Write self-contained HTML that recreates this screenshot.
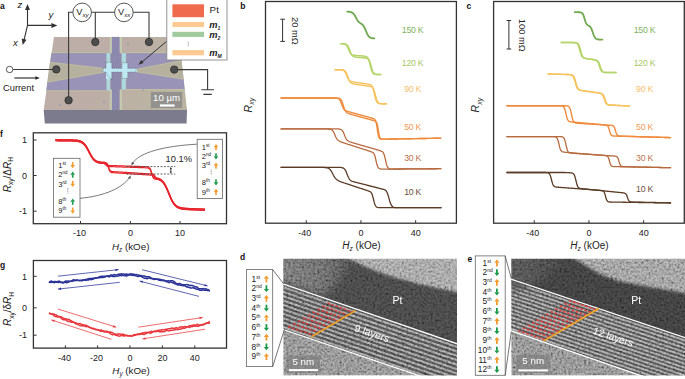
<!DOCTYPE html>
<html><head><meta charset="utf-8"><style>
html,body{margin:0;padding:0;background:#fff;width:685px;height:379px;overflow:hidden}
svg{display:block;font-family:"Liberation Sans", sans-serif}
</style></head><body>
<svg width="685" height="379" viewBox="0 0 685 379">
<defs>
<filter id="nz" x="0" y="0" width="100%" height="100%" filterUnits="objectBoundingBox">
<feTurbulence type="fractalNoise" baseFrequency="0.45" numOctaves="2" seed="5" result="t"/>
<feColorMatrix type="matrix" values="1.5 0 0 0 -0.25  1.5 0 0 0 -0.25  1.5 0 0 0 -0.25  0 0 0 0 1"/>
<feGaussianBlur stdDeviation="0.6"/>
</filter>
<linearGradient id="cdtl" x1="0" y1="0" x2="1" y2="0"><stop offset="0" stop-color="#6a6a6a"/><stop offset="0.6" stop-color="#606060"/><stop offset="1" stop-color="#4c4c4c"/></linearGradient>
<linearGradient id="facegr" x1="0" y1="0" x2="1" y2="0.3"><stop offset="0" stop-color="#bdada8"/><stop offset="0.55" stop-color="#bcaea6"/><stop offset="1" stop-color="#bbb4a2"/></linearGradient>
<filter id="bl1" x="-10%" y="-10%" width="120%" height="120%"><feGaussianBlur stdDeviation="1.6"/></filter>
<filter id="bl2" x="-10%" y="-10%" width="120%" height="120%"><feGaussianBlur stdDeviation="4"/></filter>
<linearGradient id="cetl" x1="0" y1="0" x2="1" y2="0"><stop offset="0" stop-color="#4e4e4e"/><stop offset="1" stop-color="#3e3e3e"/></linearGradient>
</defs>
<text x="0" y="9" font-size="8.5" text-anchor="start" fill="#111" font-weight="bold" font-style="normal" >a</text>
<path d="M27.5 25.4 V8.5 M27.5 25.4 H52.5 M27.5 25.4 L23.9 40.6" stroke="#333" stroke-width="1.1" fill="none"/>
<polygon points="27.5,4 30,10 25,10" fill="#333"/>
<polygon points="57.4,25.4 51.4,27.9 51.4,22.9" fill="#333"/>
<polygon points="22.7,45 21.68,38.58 26.54,39.76" fill="#333"/>
<text x="17.4" y="8" font-size="9.5" text-anchor="start" fill="#222" font-weight="normal" font-style="italic" >z</text>
<text x="48.5" y="18.2" font-size="9.5" text-anchor="start" fill="#222" font-weight="normal" font-style="italic" >y</text>
<text x="13" y="46.4" font-size="9.5" text-anchor="start" fill="#222" font-weight="normal" font-style="italic" >x</text>
<polygon points="43.7,110 187,110 186.6,123.6 44.8,123.6" fill="#7c7b8d"/>
<polygon points="53.9,36.9 179,36.9 187,110 43.7,110" fill="url(#facegr)"/>
<polygon points="51.4,52.8 106.5,52.8 106.5,68.8 50,62.4" fill="#9893b7"/>
<polygon points="47.3,82 106.5,71.6 106.8,90.6 46.3,90.6" fill="#9893b7"/>
<polygon points="126.2,52.9 180.6,52.9 181.5,60.8 137,69.4 126.2,69.4" fill="#9893b7"/>
<polygon points="126.2,71.6 137,71.6 183.6,79 184.6,89.2 126.2,89.2" fill="#9893b7"/>
<polygon points="49.8,62.3 104.5,69.2 104.5,71.8 47.3,82.1" fill="#b6b09f"/>
<polygon points="181.5,60.7 136.5,69.3 136.5,71.7 183.6,79.1" fill="#b6b09f"/>
<path d="M51.4 52.6 H106.5 M126.2 52.7 H180.6 M46.3 90.9 H106.8 M126.2 89.5 H184.6 M50 62.2 L106 68.6 M47.3 82.2 L106 71.8 M181.5 60.6 L137 69.2 M183.6 79.2 L137 71.8" stroke="#c9c79a" stroke-width="0.9" fill="none" opacity="0.8"/>
<rect x="106.6" y="53" width="4.2" height="37.5" fill="#acd9df"/>
<rect x="121.3" y="53" width="4.5" height="36.5" fill="#acd9df"/>
<rect x="109.8" y="36.9" width="2.4" height="73.1" fill="#c3cdb0" opacity="0.9"/>
<rect x="119.6" y="36.9" width="2.4" height="73.1" fill="#c3cdb0" opacity="0.9"/>
<rect x="111.9" y="36.9" width="7.6" height="73.1" fill="#8c88ae"/>
<rect x="110.4" y="53.3" width="11.1" height="36.2" fill="#8c88ae"/>
<rect x="103" y="68.3" width="34" height="3.8" fill="#bfe8f5"/>
<rect x="106" y="62.3" width="5.8" height="17" rx="1" fill="#bfe8f5"/>
<rect x="122" y="62.8" width="5.8" height="15.6" rx="1" fill="#bfe8f5"/>
<path d="M103 68.3 H106 V62.3 H111.8 V68.3 H122 V62.8 H127.8 V68.3 H137 L135 72.1 H127.8 V78.4 H122 V72.1 H111.8 V80 L108 76 L106 72.1 H103 Z" fill="none" stroke="#333" stroke-width="0.45" stroke-dasharray="1 0.9"/>
<circle cx="104" cy="102" r="0.7" fill="#5b7fc0" opacity="0.7"/>
<circle cx="143" cy="90" r="0.7" fill="#5b7fc0" opacity="0.7"/>
<circle cx="128" cy="44" r="0.7" fill="#5b7fc0" opacity="0.7"/>
<circle cx="60" cy="105" r="0.7" fill="#5b7fc0" opacity="0.7"/>
<path d="M68.6 100.3 V12.3 H149 V42 M95.3 12.3 V42" stroke="#3a3a3a" stroke-width="1.1" fill="none"/>
<path d="M12.9 69.5 H56.3 M174.2 69.6 H207.6 V89.7 M201.3 89.7 H214 M203.4 94.4 H211.8" stroke="#3a3a3a" stroke-width="1.1" fill="none"/>
<circle cx="82.15" cy="12.4" r="9.3" fill="#fff" stroke="#444" stroke-width="0.9"/>
<text x="76.25" y="14.6" font-size="9.3" fill="#222">V<tspan font-size="6.2" font-style="italic" dy="2.4">xy</tspan></text>
<circle cx="123.9" cy="12.4" r="9.3" fill="#fff" stroke="#444" stroke-width="0.9"/>
<text x="118" y="14.6" font-size="9.3" fill="#222">V<tspan font-size="6.2" font-style="italic" dy="2.4">xx</tspan></text>
<circle cx="95.3" cy="42" r="3.7" fill="#4d4d4d" stroke="#2e2e2e" stroke-width="0.8"/>
<circle cx="149" cy="42" r="3.7" fill="#4d4d4d" stroke="#2e2e2e" stroke-width="0.8"/>
<circle cx="56.3" cy="69.4" r="3.7" fill="#4d4d4d" stroke="#2e2e2e" stroke-width="0.8"/>
<circle cx="174.2" cy="69.6" r="3.7" fill="#4d4d4d" stroke="#2e2e2e" stroke-width="0.8"/>
<circle cx="68.6" cy="100.3" r="3.7" fill="#4d4d4d" stroke="#2e2e2e" stroke-width="0.8"/>
<circle cx="9.6" cy="69.5" r="3.2" fill="#fff" stroke="#444" stroke-width="0.9"/>
<path d="M14.4 78 H35.5" stroke="#222" stroke-width="1.1"/>
<polygon points="39.8,78 35.3,79.8 35.3,76.2" fill="#222"/>
<text x="3" y="90.9" font-size="9.3" text-anchor="start" fill="#222" font-weight="normal" font-style="normal" >Current</text>
<rect x="150.8" y="92" width="31.4" height="16.1" fill="#8c8c8c" opacity="0.85"/>
<text x="166.5" y="100.9" font-size="9.6" text-anchor="middle" fill="#fff" font-weight="normal" font-style="normal" >10 &#181;m</text>
<rect x="159.9" y="104.4" width="14.7" height="2.2" fill="#fff"/>
<rect x="166.8" y="-1" width="60.2" height="61" fill="#fff" stroke="#888" stroke-width="0.9"/>
<rect x="172.4" y="4.3" width="31.6" height="12.9" fill="#f06a4e"/>
<rect x="172.4" y="22" width="31.6" height="5.1" fill="#fdca93"/>
<rect x="172.4" y="31.8" width="31.6" height="5.1" fill="#9fcb9e"/>
<rect x="172.4" y="50.1" width="31.6" height="5.2" fill="#fdca93"/>
<path d="M188.3 41.6 V47" stroke="#777" stroke-width="0.9" stroke-dasharray="0.9 0.9"/>
<text x="209.6" y="13.1" font-size="9.8" text-anchor="start" fill="#222" font-weight="normal" font-style="normal" >Pt</text>
<text x="209.2" y="28.0" font-size="9.3" font-weight="bold" font-style="italic" fill="#222">m<tspan font-size="5" dy="1.8">1</tspan></text>
<text x="209.2" y="37.8" font-size="9.3" font-weight="bold" font-style="italic" fill="#222">m<tspan font-size="5" dy="1.8">2</tspan></text>
<text x="209.2" y="56.2" font-size="9.3" font-weight="bold" font-style="italic" fill="#222">m<tspan font-size="5" dy="1.8">M</tspan></text>
<path d="M166.3 41.6 L141.5 62.4" stroke="#333" stroke-width="1"/>
<polygon points="138.5,64.7 141.13,60.04 143.56,62.97" fill="#333"/>
<text x="240.2" y="8.9" font-size="8.5" text-anchor="start" fill="#111" font-weight="bold" font-style="normal" >b</text>
<rect x="265.5" y="1.5" width="190.9" height="221.7" fill="none" stroke="#333" stroke-width="1.3"/>
<line x1="306.25" y1="223.2" x2="306.25" y2="220.2" stroke="#333" stroke-width="1"/>
<text x="304.75" y="235.8" font-size="9" text-anchor="middle" fill="#222" font-weight="normal" font-style="normal" >-40</text>
<line x1="360.95" y1="223.2" x2="360.95" y2="220.2" stroke="#333" stroke-width="1"/>
<text x="360.95" y="235.8" font-size="9" text-anchor="middle" fill="#222" font-weight="normal" font-style="normal" >0</text>
<line x1="415.65" y1="223.2" x2="415.65" y2="220.2" stroke="#333" stroke-width="1"/>
<text x="415.65" y="235.8" font-size="9" text-anchor="middle" fill="#222" font-weight="normal" font-style="normal" >40</text>
<text x="361.45" y="249.4" font-size="10" text-anchor="middle" fill="#222"><tspan font-style="italic">H</tspan><tspan font-size="6.5" font-style="italic" dy="2">z</tspan><tspan dy="-2"> (kOe)</tspan></text>
<text transform="translate(251.8,112.4) rotate(-90)" font-size="10.5" fill="#222"><tspan font-style="italic">R</tspan><tspan font-size="7" font-style="italic" dy="2.5">xy</tspan></text>
<path d="M282.6 19.2 V41.4 M280.3 19.2 H284.9 M280.3 41.4 H284.9" stroke="#333" stroke-width="1" fill="none"/>
<text transform="translate(292.2,30.8) rotate(90)" font-size="9.3" text-anchor="middle" fill="#222">20 m&#937;</text>
<path d="M347.3 11.65 L347.78 11.67 L348.26 11.69 L348.75 11.73 L349.23 11.77 L349.71 11.83 L350.19 11.91 L350.68 12.02 L351.16 12.16 L351.64 12.34 L352.12 12.58 L352.6 12.88 L353.09 13.27 L353.57 13.76 L354.05 14.34 L354.53 15.03 L355.01 15.82 L355.5 16.68 L355.98 17.58 L356.46 18.48 L356.94 19.35 L357.43 20.16 L357.91 20.87 L358.39 21.49 L358.87 22.02 L359.35 22.46 L359.84 22.84 L360.32 23.17 L360.8 23.48 L361.28 23.78 L361.76 24.11 L362.25 24.48 L362.73 24.93 L363.21 25.46 L363.69 26.12 L364.18 26.91 L364.66 27.84 L365.14 28.89 L365.62 30.04 L366.1 31.23 L366.59 32.41 L367.07 33.52 L367.55 34.51 L368.03 35.36 L368.51 36.06 L369 36.63 L369.48 37.07 L369.96 37.41 L370.44 37.67 L370.93 37.86 L371.41 38.01 L371.89 38.11 L372.37 38.19 L372.85 38.25 L373.34 38.29 L373.82 38.32 L374.3 38.34" fill="none" stroke="#6fa84f" stroke-width="1.8" stroke-linejoin="round" stroke-linecap="round"/>
<text x="412.6" y="33.15" font-size="8.8" text-anchor="middle" fill="#7fb25f" font-weight="normal" font-style="normal" letter-spacing="-0.3">150 K</text>
<path d="M341 43.72 L341.49 43.73 L341.98 43.75 L342.47 43.77 L342.96 43.8 L343.45 43.86 L343.94 43.93 L344.43 44.05 L344.92 44.21 L345.41 44.45 L345.9 44.8 L346.39 45.28 L346.88 45.92 L347.37 46.74 L347.86 47.73 L348.35 48.86 L348.84 50.03 L349.33 51.15 L349.82 52.15 L350.31 52.97 L350.8 53.62 L351.29 54.1 L351.78 54.44 L352.27 54.7 L352.76 54.91 L353.25 55.06 L353.74 55.17 L354.23 55.26 L354.72 55.33 L355.21 55.38 L355.7 55.43 L356.19 55.48 L356.68 55.52 L357.17 55.56 L357.66 55.6 L358.15 55.64 L358.64 55.67 L359.13 55.71 L359.62 55.74 L360.11 55.78 L360.6 55.82 L361.1 55.85 L361.59 55.89 L362.08 55.93 L362.57 55.97 L363.06 56.02 L363.55 56.07 L364.04 56.13 L364.53 56.2 L365.02 56.29 L365.51 56.42 L366 56.59 L366.49 56.8 L366.98 57.13 L367.47 57.61 L367.96 58.31 L368.45 59.29 L368.94 60.61 L369.43 62.26 L369.92 64.18 L370.41 66.21 L370.9 68.16 L371.39 69.86 L371.88 71.23 L372.37 72.26 L372.86 73 L373.35 73.51 L373.84 73.85 L374.33 74.08 L374.82 74.23 L375.31 74.33 L375.8 74.39 L376.29 74.43 L376.78 74.45 L377.27 74.47 L377.76 74.48 L378.25 74.49 L378.74 74.49 L379.23 74.5 L379.72 74.5 L380.21 74.5 L380.7 74.5" fill="none" stroke="#b5d56b" stroke-width="1.5" stroke-linejoin="round" stroke-linecap="round"/>
<path d="M341 43.71 L341.49 43.71 L341.98 43.72 L342.47 43.73 L342.96 43.74 L343.45 43.77 L343.94 43.8 L344.43 43.85 L344.92 43.92 L345.41 44.03 L345.9 44.2 L346.39 44.43 L346.88 44.77 L347.37 45.25 L347.86 45.91 L348.35 46.76 L348.84 47.83 L349.33 49.07 L349.82 50.41 L350.31 51.75 L350.8 52.98 L351.29 54.02 L351.78 54.86 L352.27 55.52 L352.76 56.02 L353.25 56.38 L353.74 56.64 L354.23 56.84 L354.72 56.98 L355.21 57.09 L355.7 57.17 L356.19 57.24 L356.68 57.29 L357.17 57.34 L357.66 57.39 L358.15 57.43 L358.64 57.47 L359.13 57.5 L359.62 57.54 L360.11 57.58 L360.6 57.61 L361.1 57.65 L361.59 57.69 L362.08 57.72 L362.57 57.76 L363.06 57.8 L363.55 57.84 L364.04 57.88 L364.53 57.93 L365.02 57.99 L365.51 58.06 L366 58.14 L366.49 58.22 L366.98 58.35 L367.47 58.54 L367.96 58.82 L368.45 59.25 L368.94 59.87 L369.43 60.74 L369.92 61.92 L370.41 63.4 L370.9 65.12 L371.39 66.95 L371.88 68.71 L372.37 70.26 L372.86 71.51 L373.35 72.45 L373.84 73.13 L374.33 73.59 L374.82 73.91 L375.31 74.12 L375.8 74.25 L376.29 74.34 L376.78 74.4 L377.27 74.43 L377.76 74.46 L378.25 74.47 L378.74 74.48 L379.23 74.49 L379.72 74.49 L380.21 74.5 L380.7 74.5" fill="none" stroke="#b5d56b" stroke-width="1.5" stroke-linejoin="round" stroke-linecap="round"/>
<text x="412.6" y="66.05" font-size="8.8" text-anchor="middle" fill="#a8c862" font-weight="normal" font-style="normal" letter-spacing="-0.3">120 K</text>
<path d="M335.2 69.7 L335.69 69.7 L336.19 69.7 L336.68 69.7 L337.17 69.7 L337.67 69.71 L338.16 69.71 L338.65 69.71 L339.15 69.72 L339.64 69.73 L340.13 69.75 L340.63 69.77 L341.12 69.8 L341.61 69.86 L342.11 69.94 L342.6 70.05 L343.09 70.22 L343.59 70.47 L344.08 70.83 L344.57 71.32 L345.07 71.99 L345.56 72.85 L346.05 73.89 L346.55 75.07 L347.04 76.29 L347.53 77.47 L348.02 78.52 L348.52 79.39 L349.01 80.06 L349.5 80.56 L350 80.92 L350.49 81.17 L350.98 81.34 L351.48 81.53 L351.97 81.68 L352.46 81.8 L352.96 81.9 L353.45 81.99 L353.94 82.08 L354.44 82.16 L354.93 82.23 L355.42 82.31 L355.92 82.38 L356.41 82.45 L356.9 82.52 L357.4 82.59 L357.89 82.66 L358.38 82.72 L358.88 82.79 L359.37 82.86 L359.86 82.93 L360.36 83 L360.85 83.07 L361.34 83.14 L361.84 83.21 L362.33 83.27 L362.82 83.34 L363.32 83.41 L363.81 83.48 L364.3 83.55 L364.8 83.62 L365.29 83.69 L365.78 83.76 L366.28 83.83 L366.77 83.91 L367.26 83.99 L367.76 84.07 L368.25 84.17 L368.74 84.28 L369.24 84.38 L369.73 84.48 L370.22 84.63 L370.72 84.86 L371.21 85.22 L371.7 85.75 L372.2 86.53 L372.69 87.61 L373.18 89.07 L373.68 90.88 L374.17 92.97 L374.66 95.16 L375.15 97.24 L375.65 99.03 L376.14 100.46 L376.63 101.53 L377.13 102.29 L377.62 102.8 L378.11 103.15 L378.61 103.38 L379.1 103.53 L379.59 103.63 L380.09 103.69 L380.58 103.73 L381.07 103.75 L381.57 103.77 L382.06 103.78 L382.55 103.79 L383.05 103.79 L383.54 103.8 L384.03 103.8 L384.53 103.8 L385.02 103.8 L385.51 103.8 L386.01 103.8 L386.5 103.8" fill="none" stroke="#f6c25c" stroke-width="1.4" stroke-linejoin="round" stroke-linecap="round"/>
<path d="M335.2 69.7 L335.69 69.7 L336.19 69.7 L336.68 69.7 L337.17 69.7 L337.67 69.7 L338.16 69.7 L338.65 69.71 L339.15 69.71 L339.64 69.72 L340.13 69.72 L340.63 69.74 L341.12 69.75 L341.61 69.78 L342.11 69.82 L342.6 69.88 L343.09 69.97 L343.59 70.11 L344.08 70.3 L344.57 70.59 L345.07 71 L345.56 71.57 L346.05 72.35 L346.55 73.34 L347.04 74.55 L347.53 75.92 L348.02 77.35 L348.52 78.73 L349.01 79.96 L349.5 80.98 L350 81.77 L350.49 82.36 L350.98 82.78 L351.48 83.14 L351.97 83.41 L352.46 83.62 L352.96 83.78 L353.45 83.92 L353.94 84.03 L354.44 84.12 L354.93 84.21 L355.42 84.29 L355.92 84.37 L356.41 84.44 L356.9 84.51 L357.4 84.58 L357.89 84.65 L358.38 84.72 L358.88 84.79 L359.37 84.86 L359.86 84.93 L360.36 85 L360.85 85.07 L361.34 85.14 L361.84 85.21 L362.33 85.27 L362.82 85.34 L363.32 85.41 L363.81 85.48 L364.3 85.55 L364.8 85.62 L365.29 85.69 L365.78 85.76 L366.28 85.83 L366.77 85.9 L367.26 85.97 L367.76 86.04 L368.25 86.12 L368.74 86.21 L369.24 86.26 L369.73 86.3 L370.22 86.36 L370.72 86.45 L371.21 86.58 L371.7 86.79 L372.2 87.11 L372.69 87.58 L373.18 88.27 L373.68 89.24 L374.17 90.53 L374.66 92.15 L375.15 94.02 L375.65 95.99 L376.14 97.86 L376.63 99.48 L377.13 100.77 L377.62 101.74 L378.11 102.42 L378.61 102.9 L379.1 103.21 L379.59 103.42 L380.09 103.56 L380.58 103.64 L381.07 103.7 L381.57 103.74 L382.06 103.76 L382.55 103.77 L383.05 103.78 L383.54 103.79 L384.03 103.79 L384.53 103.8 L385.02 103.8 L385.51 103.8 L386.01 103.8 L386.5 103.8" fill="none" stroke="#f6c25c" stroke-width="1.4" stroke-linejoin="round" stroke-linecap="round"/>
<text x="412.6" y="92.25" font-size="8.8" text-anchor="middle" fill="#f3c06c" font-weight="normal" font-style="normal" letter-spacing="-0.3">90 K</text>
<path d="M281.1 98 L281.6 98 L282.09 98 L282.59 98 L283.09 98 L283.58 98 L284.08 98 L284.58 98 L285.08 98 L285.57 98 L286.07 98 L286.57 98 L287.06 98 L287.56 98 L288.06 98 L288.55 98 L289.05 98 L289.55 98 L290.04 98 L290.54 98 L291.04 98 L291.53 98 L292.03 98 L292.53 98 L293.03 98 L293.52 98 L294.02 98 L294.52 98 L295.01 98 L295.51 98 L296.01 98 L296.5 98 L297 98 L297.5 98 L297.99 98 L298.49 98 L298.99 98 L299.48 98 L299.98 98 L300.48 98 L300.98 98 L301.47 98 L301.97 98 L302.47 98 L302.96 98 L303.46 98 L303.96 98 L304.45 98 L304.95 98 L305.45 98 L305.94 98 L306.44 98 L306.94 98 L307.43 98 L307.93 98 L308.43 98 L308.93 98 L309.42 98 L309.92 98 L310.42 98 L310.91 98 L311.41 98 L311.91 98 L312.4 98 L312.9 98 L313.4 98 L313.89 98 L314.39 98 L314.89 98 L315.39 98 L315.88 98 L316.38 98 L316.88 98 L317.37 98 L317.87 98 L318.37 98 L318.86 98 L319.36 98 L319.86 98 L320.35 98 L320.85 98 L321.35 98 L321.84 98 L322.34 98 L322.84 98 L323.34 98 L323.83 98 L324.33 98 L324.83 98 L325.32 98 L325.82 98 L326.32 98 L326.81 98 L327.31 98 L327.81 98 L328.3 98 L328.8 98 L329.3 98 L329.79 98 L330.29 98 L330.79 98 L331.29 98 L331.78 98 L332.28 98 L332.78 98.01 L333.27 98.01 L333.77 98.01 L334.27 98.02 L334.76 98.03 L335.26 98.04 L335.76 98.07 L336.25 98.1 L336.75 98.16 L337.25 98.24 L337.74 98.37 L338.24 98.56 L338.74 98.85 L339.24 99.26 L339.73 99.85 L340.23 100.64 L340.73 101.67 L341.22 102.9 L341.72 104.27 L342.22 105.67 L342.71 106.95 L343.21 108.05 L343.71 108.92 L344.2 109.57 L344.7 110.03 L345.2 110.36 L345.7 110.57 L346.19 110.77 L346.69 111.01 L347.19 111.2 L347.68 111.38 L348.18 111.55 L348.68 111.7 L349.17 111.85 L349.67 111.99 L350.17 112.13 L350.66 112.27 L351.16 112.41 L351.66 112.54 L352.15 112.68 L352.65 112.82 L353.15 112.95 L353.65 113.09 L354.14 113.23 L354.64 113.36 L355.14 113.5 L355.63 113.63 L356.13 113.77 L356.63 113.9 L357.12 114.04 L357.62 114.18 L358.12 114.31 L358.61 114.45 L359.11 114.58 L359.61 114.72 L360.1 114.86 L360.6 114.99 L361.1 115.13 L361.6 115.26 L362.09 115.4 L362.59 115.53 L363.09 115.67 L363.58 115.81 L364.08 115.94 L364.58 116.08 L365.07 116.21 L365.57 116.35 L366.07 116.49 L366.56 116.62 L367.06 116.76 L367.56 116.89 L368.05 117.03 L368.55 117.16 L369.05 117.3 L369.55 117.44 L370.04 117.57 L370.54 117.71 L371.04 117.85 L371.53 117.98 L372.03 118.13 L372.53 118.27 L373.02 118.43 L373.52 118.61 L374.02 118.84 L374.51 119.16 L375.01 119.66 L375.51 120.5 L376 121.92 L376.5 124.05 L377 127.08 L377.5 130.59 L377.99 133.78 L378.49 136.11 L378.99 137.55 L379.48 138.35 L379.98 138.77 L380.48 138.99 L380.97 139.1 L381.47 139.15 L381.97 139.17 L382.46 139.18 L382.96 139.18 L383.46 139.17 L383.96 139.16 L384.45 139.16 L384.95 139.15 L385.45 139.14 L385.94 139.13 L386.44 139.12 L386.94 139.11 L387.43 139.11 L387.93 139.1 L388.43 139.09 L388.92 139.08 L389.42 139.07 L389.92 139.06 L390.41 139.05 L390.91 139.05 L391.41 139.04 L391.91 139.03 L392.4 139.02 L392.9 139.01 L393.4 139 L393.89 138.99 L394.39 138.99 L394.89 138.98 L395.38 138.97 L395.88 138.96 L396.38 138.95 L396.87 138.94 L397.37 138.93 L397.87 138.93 L398.36 138.92 L398.86 138.91 L399.36 138.9 L399.86 138.89 L400.35 138.88 L400.85 138.88 L401.35 138.87 L401.84 138.86 L402.34 138.85 L402.84 138.84 L403.33 138.83 L403.83 138.82 L404.33 138.82 L404.82 138.81 L405.32 138.8 L405.82 138.79 L406.31 138.78 L406.81 138.77 L407.31 138.76 L407.81 138.76 L408.3 138.75 L408.8 138.74 L409.3 138.73 L409.79 138.72 L410.29 138.71 L410.79 138.7 L411.28 138.7 L411.78 138.69 L412.28 138.68 L412.77 138.67 L413.27 138.66 L413.77 138.65 L414.27 138.64 L414.76 138.64 L415.26 138.63 L415.76 138.62 L416.25 138.61 L416.75 138.6 L417.25 138.59 L417.74 138.58 L418.24 138.58 L418.74 138.57 L419.23 138.56 L419.73 138.55 L420.23 138.54 L420.72 138.53 L421.22 138.52 L421.72 138.52 L422.22 138.51 L422.71 138.5 L423.21 138.49 L423.71 138.48 L424.2 138.47 L424.7 138.46 L425.2 138.46 L425.69 138.45 L426.19 138.44 L426.69 138.43 L427.18 138.42 L427.68 138.41 L428.18 138.4 L428.67 138.4 L429.17 138.39 L429.67 138.38 L430.17 138.37 L430.66 138.36 L431.16 138.35 L431.66 138.34 L432.15 138.34 L432.65 138.33 L433.15 138.32 L433.64 138.31 L434.14 138.3 L434.64 138.29 L435.13 138.28 L435.63 138.28 L436.13 138.27 L436.62 138.26 L437.12 138.25 L437.62 138.24 L438.12 138.23 L438.61 138.22 L439.11 138.22 L439.61 138.21 L440.1 138.2 L440.6 138.2" fill="none" stroke="#f08a3c" stroke-width="1.4" stroke-linejoin="round" stroke-linecap="round"/>
<path d="M281.1 98 L281.6 98 L282.09 98 L282.59 98 L283.09 98 L283.58 98 L284.08 98 L284.58 98 L285.08 98 L285.57 98 L286.07 98 L286.57 98 L287.06 98 L287.56 98 L288.06 98 L288.55 98 L289.05 98 L289.55 98 L290.04 98 L290.54 98 L291.04 98 L291.53 98 L292.03 98 L292.53 98 L293.03 98 L293.52 98 L294.02 98 L294.52 98 L295.01 98 L295.51 98 L296.01 98 L296.5 98 L297 98 L297.5 98 L297.99 98 L298.49 98 L298.99 98 L299.48 98 L299.98 98 L300.48 98 L300.98 98 L301.47 98 L301.97 98 L302.47 98 L302.96 98 L303.46 98 L303.96 98 L304.45 98 L304.95 98 L305.45 98 L305.94 98 L306.44 98 L306.94 98 L307.43 98 L307.93 98 L308.43 98 L308.93 98 L309.42 98 L309.92 98 L310.42 98 L310.91 98 L311.41 98 L311.91 98 L312.4 98 L312.9 98 L313.4 98 L313.89 98 L314.39 98 L314.89 98 L315.39 98 L315.88 98 L316.38 98 L316.88 98 L317.37 98 L317.87 98 L318.37 98 L318.86 98 L319.36 98 L319.86 98 L320.35 98 L320.85 98 L321.35 98 L321.84 98 L322.34 98 L322.84 98 L323.34 98 L323.83 98 L324.33 98 L324.83 98 L325.32 98 L325.82 98 L326.32 98 L326.81 98 L327.31 98 L327.81 98 L328.3 98 L328.8 98 L329.3 98 L329.79 98 L330.29 98 L330.79 98 L331.29 98 L331.78 98 L332.28 98 L332.78 98 L333.27 98 L333.77 98 L334.27 98.01 L334.76 98.01 L335.26 98.01 L335.76 98.02 L336.25 98.03 L336.75 98.05 L337.25 98.08 L337.74 98.12 L338.24 98.18 L338.74 98.28 L339.24 98.43 L339.73 98.65 L340.23 98.97 L340.73 99.45 L341.22 100.12 L341.72 101.03 L342.22 102.21 L342.71 103.63 L343.21 105.21 L343.71 106.81 L344.2 108.31 L344.7 109.58 L345.2 110.58 L345.7 111.34 L346.19 111.93 L346.69 112.44 L347.19 112.83 L347.68 113.14 L348.18 113.38 L348.68 113.59 L349.17 113.78 L349.67 113.94 L350.17 114.1 L350.66 114.25 L351.16 114.39 L351.66 114.54 L352.15 114.68 L352.65 114.81 L353.15 114.95 L353.65 115.09 L354.14 115.22 L354.64 115.36 L355.14 115.5 L355.63 115.63 L356.13 115.77 L356.63 115.9 L357.12 116.04 L357.62 116.18 L358.12 116.31 L358.61 116.45 L359.11 116.58 L359.61 116.72 L360.1 116.86 L360.6 116.99 L361.1 117.13 L361.6 117.26 L362.09 117.4 L362.59 117.53 L363.09 117.67 L363.58 117.81 L364.08 117.94 L364.58 118.08 L365.07 118.21 L365.57 118.35 L366.07 118.49 L366.56 118.62 L367.06 118.76 L367.56 118.89 L368.05 119.03 L368.55 119.16 L369.05 119.3 L369.55 119.44 L370.04 119.57 L370.54 119.71 L371.04 119.84 L371.53 119.98 L372.03 120.12 L372.53 120.26 L373.02 120.4 L373.52 120.54 L374.02 120.7 L374.51 120.87 L375.01 121.09 L375.51 121.39 L376 121.85 L376.5 122.48 L377 123.63 L377.5 125.53 L377.99 128.25 L378.49 131.41 L378.99 134.29 L379.48 136.4 L379.98 137.7 L380.48 138.43 L380.97 138.81 L381.47 139.01 L381.97 139.11 L382.46 139.15 L382.96 139.16 L383.46 139.16 L383.96 139.16 L384.45 139.15 L384.95 139.15 L385.45 139.14 L385.94 139.13 L386.44 139.12 L386.94 139.11 L387.43 139.11 L387.93 139.1 L388.43 139.09 L388.92 139.08 L389.42 139.07 L389.92 139.06 L390.41 139.05 L390.91 139.05 L391.41 139.04 L391.91 139.03 L392.4 139.02 L392.9 139.01 L393.4 139 L393.89 138.99 L394.39 138.99 L394.89 138.98 L395.38 138.97 L395.88 138.96 L396.38 138.95 L396.87 138.94 L397.37 138.93 L397.87 138.93 L398.36 138.92 L398.86 138.91 L399.36 138.9 L399.86 138.89 L400.35 138.88 L400.85 138.88 L401.35 138.87 L401.84 138.86 L402.34 138.85 L402.84 138.84 L403.33 138.83 L403.83 138.82 L404.33 138.82 L404.82 138.81 L405.32 138.8 L405.82 138.79 L406.31 138.78 L406.81 138.77 L407.31 138.76 L407.81 138.76 L408.3 138.75 L408.8 138.74 L409.3 138.73 L409.79 138.72 L410.29 138.71 L410.79 138.7 L411.28 138.7 L411.78 138.69 L412.28 138.68 L412.77 138.67 L413.27 138.66 L413.77 138.65 L414.27 138.64 L414.76 138.64 L415.26 138.63 L415.76 138.62 L416.25 138.61 L416.75 138.6 L417.25 138.59 L417.74 138.58 L418.24 138.58 L418.74 138.57 L419.23 138.56 L419.73 138.55 L420.23 138.54 L420.72 138.53 L421.22 138.52 L421.72 138.52 L422.22 138.51 L422.71 138.5 L423.21 138.49 L423.71 138.48 L424.2 138.47 L424.7 138.46 L425.2 138.46 L425.69 138.45 L426.19 138.44 L426.69 138.43 L427.18 138.42 L427.68 138.41 L428.18 138.4 L428.67 138.4 L429.17 138.39 L429.67 138.38 L430.17 138.37 L430.66 138.36 L431.16 138.35 L431.66 138.34 L432.15 138.34 L432.65 138.33 L433.15 138.32 L433.64 138.31 L434.14 138.3 L434.64 138.29 L435.13 138.28 L435.63 138.28 L436.13 138.27 L436.62 138.26 L437.12 138.25 L437.62 138.24 L438.12 138.23 L438.61 138.22 L439.11 138.22 L439.61 138.21 L440.1 138.2 L440.6 138.2" fill="none" stroke="#f08a3c" stroke-width="1.4" stroke-linejoin="round" stroke-linecap="round"/>
<text x="412.6" y="129.75" font-size="8.8" text-anchor="middle" fill="#ef9a58" font-weight="normal" font-style="normal" letter-spacing="-0.3">50 K</text>
<path d="M281.1 128.9 L281.6 128.9 L282.1 128.9 L282.59 128.9 L283.09 128.9 L283.59 128.9 L284.09 128.9 L284.58 128.9 L285.08 128.9 L285.58 128.9 L286.08 128.9 L286.57 128.9 L287.07 128.9 L287.57 128.9 L288.07 128.9 L288.56 128.9 L289.06 128.9 L289.56 128.9 L290.06 128.9 L290.55 128.9 L291.05 128.9 L291.55 128.9 L292.05 128.9 L292.54 128.9 L293.04 128.9 L293.54 128.9 L294.04 128.9 L294.53 128.9 L295.03 128.9 L295.53 128.9 L296.03 128.9 L296.52 128.9 L297.02 128.9 L297.52 128.9 L298.02 128.9 L298.51 128.9 L299.01 128.9 L299.51 128.9 L300.01 128.9 L300.5 128.9 L301 128.9 L301.5 128.9 L302 128.9 L302.49 128.9 L302.99 128.9 L303.49 128.9 L303.99 128.9 L304.48 128.9 L304.98 128.9 L305.48 128.9 L305.98 128.9 L306.47 128.9 L306.97 128.9 L307.47 128.9 L307.97 128.9 L308.46 128.9 L308.96 128.9 L309.46 128.9 L309.96 128.9 L310.45 128.9 L310.95 128.9 L311.45 128.9 L311.95 128.9 L312.44 128.9 L312.94 128.9 L313.44 128.9 L313.94 128.9 L314.43 128.9 L314.93 128.9 L315.43 128.9 L315.93 128.9 L316.42 128.9 L316.92 128.9 L317.42 128.9 L317.92 128.9 L318.41 128.9 L318.91 128.9 L319.41 128.9 L319.91 128.9 L320.4 128.9 L320.9 128.9 L321.4 128.9 L321.9 128.9 L322.39 128.9 L322.89 128.9 L323.39 128.9 L323.89 128.9 L324.38 128.9 L324.88 128.91 L325.38 128.91 L325.88 128.91 L326.37 128.92 L326.87 128.92 L327.37 128.94 L327.87 128.95 L328.36 128.98 L328.86 129.01 L329.36 129.06 L329.86 129.13 L330.35 129.24 L330.85 129.39 L331.35 129.61 L331.85 129.91 L332.34 130.33 L332.84 130.9 L333.34 131.62 L333.84 132.52 L334.33 133.58 L334.83 134.74 L335.33 135.94 L335.83 137.07 L336.32 138.08 L336.82 138.93 L337.32 139.6 L337.82 140.11 L338.31 140.49 L338.81 140.77 L339.31 141.06 L339.81 141.35 L340.3 141.61 L340.8 141.83 L341.3 142.03 L341.8 142.22 L342.29 142.4 L342.79 142.58 L343.29 142.74 L343.79 142.91 L344.28 143.07 L344.78 143.23 L345.28 143.39 L345.78 143.55 L346.27 143.71 L346.77 143.87 L347.27 144.03 L347.77 144.19 L348.26 144.35 L348.76 144.51 L349.26 144.66 L349.76 144.82 L350.25 144.98 L350.75 145.14 L351.25 145.3 L351.75 145.46 L352.24 145.61 L352.74 145.77 L353.24 145.93 L353.74 146.09 L354.23 146.25 L354.73 146.41 L355.23 146.56 L355.73 146.72 L356.22 146.88 L356.72 147.04 L357.22 147.2 L357.72 147.36 L358.21 147.51 L358.71 147.67 L359.21 147.83 L359.71 147.99 L360.2 148.15 L360.7 148.3 L361.2 148.46 L361.7 148.62 L362.19 148.78 L362.69 148.94 L363.19 149.1 L363.69 149.25 L364.18 149.41 L364.68 149.57 L365.18 149.73 L365.68 149.89 L366.17 150.05 L366.67 150.21 L367.17 150.36 L367.67 150.52 L368.16 150.68 L368.66 150.85 L369.16 151.01 L369.66 151.18 L370.15 151.35 L370.65 151.53 L371.15 151.73 L371.65 151.96 L372.14 152.19 L372.64 152.39 L373.14 152.71 L373.64 153.22 L374.13 154.02 L374.63 155.19 L375.13 156.81 L375.63 158.83 L376.12 161.06 L376.62 163.22 L377.12 165.05 L377.62 166.45 L378.11 167.42 L378.61 168.07 L379.11 168.47 L379.61 168.72 L380.1 168.87 L380.6 168.97 L381.1 169.02 L381.6 169.05 L382.09 169.07 L382.59 169.08 L383.09 169.08 L383.59 169.08 L384.08 169.08 L384.58 169.08 L385.08 169.08 L385.58 169.07 L386.07 169.07 L386.57 169.07 L387.07 169.06 L387.57 169.06 L388.06 169.06 L388.56 169.05 L389.06 169.05 L389.56 169.05 L390.05 169.04 L390.55 169.04 L391.05 169.04 L391.55 169.03 L392.04 169.03 L392.54 169.03 L393.04 169.02 L393.54 169.02 L394.03 169.02 L394.53 169.01 L395.03 169.01 L395.53 169.01 L396.02 169 L396.52 169 L397.02 169 L397.52 168.99 L398.01 168.99 L398.51 168.99 L399.01 168.98 L399.51 168.98 L400 168.98 L400.5 168.97 L401 168.97 L401.5 168.97 L401.99 168.96 L402.49 168.96 L402.99 168.96 L403.49 168.95 L403.98 168.95 L404.48 168.94 L404.98 168.94 L405.48 168.94 L405.97 168.93 L406.47 168.93 L406.97 168.93 L407.47 168.92 L407.96 168.92 L408.46 168.92 L408.96 168.91 L409.46 168.91 L409.95 168.91 L410.45 168.9 L410.95 168.9 L411.45 168.9 L411.94 168.89 L412.44 168.89 L412.94 168.89 L413.44 168.88 L413.93 168.88 L414.43 168.88 L414.93 168.87 L415.43 168.87 L415.92 168.87 L416.42 168.86 L416.92 168.86 L417.42 168.86 L417.91 168.85 L418.41 168.85 L418.91 168.85 L419.41 168.84 L419.9 168.84 L420.4 168.84 L420.9 168.83 L421.4 168.83 L421.89 168.82 L422.39 168.82 L422.89 168.82 L423.39 168.81 L423.88 168.81 L424.38 168.81 L424.88 168.8 L425.38 168.8 L425.87 168.8 L426.37 168.79 L426.87 168.79 L427.37 168.79 L427.86 168.78 L428.36 168.78 L428.86 168.78 L429.36 168.77 L429.85 168.77 L430.35 168.77 L430.85 168.76 L431.35 168.76 L431.84 168.76 L432.34 168.75 L432.84 168.75 L433.34 168.75 L433.83 168.74 L434.33 168.74 L434.83 168.74 L435.33 168.73 L435.82 168.73 L436.32 168.73 L436.82 168.72 L437.32 168.72 L437.81 168.72 L438.31 168.71 L438.81 168.71 L439.31 168.7 L439.8 168.7 L440.3 168.7 L440.8 168.7" fill="none" stroke="#b86a3f" stroke-width="1.3" stroke-linejoin="round" stroke-linecap="round"/>
<path d="M281.1 128.9 L281.6 128.9 L282.1 128.9 L282.59 128.9 L283.09 128.9 L283.59 128.9 L284.09 128.9 L284.58 128.9 L285.08 128.9 L285.58 128.9 L286.08 128.9 L286.57 128.9 L287.07 128.9 L287.57 128.9 L288.07 128.9 L288.56 128.9 L289.06 128.9 L289.56 128.9 L290.06 128.9 L290.55 128.9 L291.05 128.9 L291.55 128.9 L292.05 128.9 L292.54 128.9 L293.04 128.9 L293.54 128.9 L294.04 128.9 L294.53 128.9 L295.03 128.9 L295.53 128.9 L296.03 128.9 L296.52 128.9 L297.02 128.9 L297.52 128.9 L298.02 128.9 L298.51 128.9 L299.01 128.9 L299.51 128.9 L300.01 128.9 L300.5 128.9 L301 128.9 L301.5 128.9 L302 128.9 L302.49 128.9 L302.99 128.9 L303.49 128.9 L303.99 128.9 L304.48 128.9 L304.98 128.9 L305.48 128.9 L305.98 128.9 L306.47 128.9 L306.97 128.9 L307.47 128.9 L307.97 128.9 L308.46 128.9 L308.96 128.9 L309.46 128.9 L309.96 128.9 L310.45 128.9 L310.95 128.9 L311.45 128.9 L311.95 128.9 L312.44 128.9 L312.94 128.9 L313.44 128.9 L313.94 128.9 L314.43 128.9 L314.93 128.9 L315.43 128.9 L315.93 128.9 L316.42 128.9 L316.92 128.9 L317.42 128.9 L317.92 128.9 L318.41 128.9 L318.91 128.9 L319.41 128.9 L319.91 128.9 L320.4 128.9 L320.9 128.9 L321.4 128.9 L321.9 128.9 L322.39 128.9 L322.89 128.9 L323.39 128.9 L323.89 128.9 L324.38 128.9 L324.88 128.9 L325.38 128.9 L325.88 128.9 L326.37 128.9 L326.87 128.9 L327.37 128.9 L327.87 128.9 L328.36 128.9 L328.86 128.9 L329.36 128.9 L329.86 128.9 L330.35 128.9 L330.85 128.9 L331.35 128.9 L331.85 128.9 L332.34 128.9 L332.84 128.9 L333.34 128.9 L333.84 128.9 L334.33 128.9 L334.83 128.9 L335.33 128.91 L335.83 128.91 L336.32 128.91 L336.82 128.92 L337.32 128.93 L337.82 128.95 L338.31 128.97 L338.81 129.01 L339.31 129.06 L339.81 129.15 L340.3 129.27 L340.8 129.45 L341.3 129.71 L341.8 130.09 L342.29 130.61 L342.79 131.33 L343.29 132.24 L343.79 133.34 L344.28 134.59 L344.78 135.88 L345.28 137.11 L345.78 138.19 L346.27 139.08 L346.77 139.76 L347.27 140.27 L347.77 140.63 L348.26 140.96 L348.76 141.27 L349.26 141.53 L349.76 141.75 L350.25 141.95 L350.75 142.12 L351.25 142.29 L351.75 142.45 L352.24 142.6 L352.74 142.75 L353.24 142.9 L353.74 143.05 L354.23 143.19 L354.73 143.34 L355.23 143.48 L355.73 143.62 L356.22 143.77 L356.72 143.91 L357.22 144.05 L357.72 144.2 L358.21 144.34 L358.71 144.48 L359.21 144.63 L359.71 144.77 L360.2 144.91 L360.7 145.06 L361.2 145.2 L361.7 145.34 L362.19 145.49 L362.69 145.63 L363.19 145.77 L363.69 145.92 L364.18 146.06 L364.68 146.2 L365.18 146.35 L365.68 146.49 L366.17 146.63 L366.67 146.78 L367.17 146.92 L367.67 147.06 L368.16 147.2 L368.66 147.35 L369.16 147.49 L369.66 147.63 L370.15 147.78 L370.65 147.92 L371.15 148.06 L371.65 148.21 L372.14 148.35 L372.64 148.49 L373.14 148.64 L373.64 148.78 L374.13 148.92 L374.63 149.07 L375.13 149.21 L375.63 149.35 L376.12 149.5 L376.62 149.64 L377.12 149.79 L377.62 149.93 L378.11 150.08 L378.61 150.23 L379.11 150.39 L379.61 150.55 L380.1 150.72 L380.6 150.92 L381.1 151.12 L381.6 151.26 L382.09 151.48 L382.59 151.84 L383.09 152.4 L383.59 153.24 L384.08 154.45 L384.58 156.09 L385.08 158.11 L385.58 160.35 L386.07 162.54 L386.57 164.46 L387.07 165.96 L387.57 167.05 L388.06 167.8 L388.56 168.29 L389.06 168.6 L389.56 168.79 L390.05 168.91 L390.55 168.98 L391.05 169.02 L391.55 169.04 L392.04 169.06 L392.54 169.06 L393.04 169.07 L393.54 169.07 L394.03 169.06 L394.53 169.06 L395.03 169.06 L395.53 169.05 L396.02 169.05 L396.52 169.05 L397.02 169.04 L397.52 169.04 L398.01 169.04 L398.51 169.03 L399.01 169.03 L399.51 169.02 L400 169.02 L400.5 169.02 L401 169.01 L401.5 169.01 L401.99 169 L402.49 169 L402.99 169 L403.49 168.99 L403.98 168.99 L404.48 168.98 L404.98 168.98 L405.48 168.98 L405.97 168.97 L406.47 168.97 L406.97 168.96 L407.47 168.96 L407.96 168.96 L408.46 168.95 L408.96 168.95 L409.46 168.94 L409.95 168.94 L410.45 168.94 L410.95 168.93 L411.45 168.93 L411.94 168.92 L412.44 168.92 L412.94 168.92 L413.44 168.91 L413.93 168.91 L414.43 168.9 L414.93 168.9 L415.43 168.9 L415.92 168.89 L416.42 168.89 L416.92 168.88 L417.42 168.88 L417.91 168.88 L418.41 168.87 L418.91 168.87 L419.41 168.86 L419.9 168.86 L420.4 168.86 L420.9 168.85 L421.4 168.85 L421.89 168.84 L422.39 168.84 L422.89 168.84 L423.39 168.83 L423.88 168.83 L424.38 168.82 L424.88 168.82 L425.38 168.82 L425.87 168.81 L426.37 168.81 L426.87 168.81 L427.37 168.8 L427.86 168.8 L428.36 168.79 L428.86 168.79 L429.36 168.79 L429.85 168.78 L430.35 168.78 L430.85 168.77 L431.35 168.77 L431.84 168.77 L432.34 168.76 L432.84 168.76 L433.34 168.75 L433.83 168.75 L434.33 168.75 L434.83 168.74 L435.33 168.74 L435.82 168.73 L436.32 168.73 L436.82 168.73 L437.32 168.72 L437.81 168.72 L438.31 168.71 L438.81 168.71 L439.31 168.71 L439.8 168.7 L440.3 168.7 L440.8 168.7" fill="none" stroke="#b86a3f" stroke-width="1.3" stroke-linejoin="round" stroke-linecap="round"/>
<text x="412.6" y="161.45" font-size="8.8" text-anchor="middle" fill="#bd7650" font-weight="normal" font-style="normal" letter-spacing="-0.3">30 K</text>
<path d="M281.1 167.4 L281.6 167.4 L282.1 167.4 L282.59 167.4 L283.09 167.4 L283.59 167.4 L284.09 167.4 L284.59 167.4 L285.09 167.4 L285.58 167.4 L286.08 167.4 L286.58 167.4 L287.08 167.4 L287.58 167.4 L288.07 167.4 L288.57 167.4 L289.07 167.4 L289.57 167.4 L290.07 167.4 L290.56 167.4 L291.06 167.4 L291.56 167.4 L292.06 167.4 L292.56 167.4 L293.06 167.4 L293.55 167.4 L294.05 167.4 L294.55 167.4 L295.05 167.4 L295.55 167.4 L296.04 167.4 L296.54 167.4 L297.04 167.4 L297.54 167.4 L298.04 167.4 L298.53 167.4 L299.03 167.4 L299.53 167.4 L300.03 167.4 L300.53 167.4 L301.03 167.4 L301.52 167.4 L302.02 167.4 L302.52 167.4 L303.02 167.4 L303.52 167.4 L304.01 167.4 L304.51 167.4 L305.01 167.4 L305.51 167.4 L306.01 167.4 L306.5 167.4 L307 167.4 L307.5 167.4 L308 167.4 L308.5 167.4 L309 167.4 L309.49 167.4 L309.99 167.4 L310.49 167.4 L310.99 167.4 L311.49 167.4 L311.98 167.4 L312.48 167.4 L312.98 167.4 L313.48 167.4 L313.98 167.4 L314.47 167.4 L314.97 167.4 L315.47 167.4 L315.97 167.4 L316.47 167.4 L316.97 167.4 L317.46 167.4 L317.96 167.4 L318.46 167.4 L318.96 167.4 L319.46 167.4 L319.95 167.41 L320.45 167.41 L320.95 167.41 L321.45 167.41 L321.95 167.42 L322.44 167.42 L322.94 167.43 L323.44 167.45 L323.94 167.46 L324.44 167.48 L324.94 167.51 L325.43 167.55 L325.93 167.6 L326.43 167.67 L326.93 167.77 L327.43 167.89 L327.92 168.05 L328.42 168.27 L328.92 168.55 L329.42 168.91 L329.92 169.36 L330.41 169.92 L330.91 170.59 L331.41 171.38 L331.91 172.26 L332.41 173.22 L332.91 174.21 L333.4 175.19 L333.9 176.13 L334.4 176.97 L334.9 177.71 L335.4 178.33 L335.89 178.85 L336.39 179.26 L336.89 179.58 L337.39 179.96 L337.89 180.31 L338.39 180.62 L338.88 180.9 L339.38 181.14 L339.88 181.37 L340.38 181.58 L340.88 181.77 L341.37 181.96 L341.87 182.14 L342.37 182.32 L342.87 182.5 L343.37 182.67 L343.86 182.84 L344.36 183 L344.86 183.17 L345.36 183.34 L345.86 183.5 L346.36 183.67 L346.85 183.83 L347.35 183.99 L347.85 184.16 L348.35 184.32 L348.85 184.49 L349.34 184.65 L349.84 184.81 L350.34 184.98 L350.84 185.14 L351.34 185.3 L351.83 185.47 L352.33 185.63 L352.83 185.79 L353.33 185.96 L353.83 186.12 L354.33 186.28 L354.82 186.45 L355.32 186.61 L355.82 186.78 L356.32 186.94 L356.82 187.1 L357.31 187.27 L357.81 187.43 L358.31 187.59 L358.81 187.76 L359.31 187.92 L359.8 188.08 L360.3 188.25 L360.8 188.41 L361.3 188.57 L361.8 188.74 L362.3 188.9 L362.79 189.06 L363.29 189.23 L363.79 189.39 L364.29 189.56 L364.79 189.72 L365.28 189.89 L365.78 190.05 L366.28 190.22 L366.78 190.39 L367.28 190.57 L367.77 190.75 L368.27 190.95 L368.77 191.17 L369.27 191.34 L369.77 191.49 L370.27 191.73 L370.76 192.11 L371.26 192.7 L371.76 193.58 L372.26 194.82 L372.76 196.45 L373.25 198.39 L373.75 200.44 L374.25 202.38 L374.75 204 L375.25 205.24 L375.74 206.11 L376.24 206.7 L376.74 207.08 L377.24 207.31 L377.74 207.46 L378.24 207.56 L378.73 207.61 L379.23 207.65 L379.73 207.67 L380.23 207.68 L380.73 207.69 L381.22 207.69 L381.72 207.7 L382.22 207.7 L382.72 207.7 L383.22 207.7 L383.71 207.7 L384.21 207.7 L384.71 207.7 L385.21 207.7 L385.71 207.7 L386.21 207.7 L386.7 207.7 L387.2 207.7 L387.7 207.7 L388.2 207.7 L388.7 207.7 L389.19 207.7 L389.69 207.7 L390.19 207.7 L390.69 207.7 L391.19 207.7 L391.69 207.7 L392.18 207.7 L392.68 207.7 L393.18 207.7 L393.68 207.7 L394.18 207.7 L394.67 207.7 L395.17 207.7 L395.67 207.7 L396.17 207.7 L396.67 207.7 L397.16 207.7 L397.66 207.7 L398.16 207.7 L398.66 207.7 L399.16 207.7 L399.66 207.7 L400.15 207.7 L400.65 207.7 L401.15 207.7 L401.65 207.7 L402.15 207.7 L402.64 207.7 L403.14 207.7 L403.64 207.7 L404.14 207.7 L404.64 207.7 L405.13 207.7 L405.63 207.7 L406.13 207.7 L406.63 207.7 L407.13 207.7 L407.63 207.7 L408.12 207.7 L408.62 207.7 L409.12 207.7 L409.62 207.7 L410.12 207.7 L410.61 207.7 L411.11 207.7 L411.61 207.7 L412.11 207.7 L412.61 207.7 L413.1 207.7 L413.6 207.7 L414.1 207.7 L414.6 207.7 L415.1 207.7 L415.6 207.7 L416.09 207.7 L416.59 207.7 L417.09 207.7 L417.59 207.7 L418.09 207.7 L418.58 207.7 L419.08 207.7 L419.58 207.7 L420.08 207.7 L420.58 207.7 L421.07 207.7 L421.57 207.7 L422.07 207.7 L422.57 207.7 L423.07 207.7 L423.57 207.7 L424.06 207.7 L424.56 207.7 L425.06 207.7 L425.56 207.7 L426.06 207.7 L426.55 207.7 L427.05 207.7 L427.55 207.7 L428.05 207.7 L428.55 207.7 L429.04 207.7 L429.54 207.7 L430.04 207.7 L430.54 207.7 L431.04 207.7 L431.54 207.7 L432.03 207.7 L432.53 207.7 L433.03 207.7 L433.53 207.7 L434.03 207.7 L434.52 207.7 L435.02 207.7 L435.52 207.7 L436.02 207.7 L436.52 207.7 L437.01 207.7 L437.51 207.7 L438.01 207.7 L438.51 207.7 L439.01 207.7 L439.51 207.7 L440 207.7 L440.5 207.7 L441 207.7" fill="none" stroke="#5a3b25" stroke-width="1.3" stroke-linejoin="round" stroke-linecap="round"/>
<path d="M281.1 167.4 L281.6 167.4 L282.1 167.4 L282.59 167.4 L283.09 167.4 L283.59 167.4 L284.09 167.4 L284.59 167.4 L285.09 167.4 L285.58 167.4 L286.08 167.4 L286.58 167.4 L287.08 167.4 L287.58 167.4 L288.07 167.4 L288.57 167.4 L289.07 167.4 L289.57 167.4 L290.07 167.4 L290.56 167.4 L291.06 167.4 L291.56 167.4 L292.06 167.4 L292.56 167.4 L293.06 167.4 L293.55 167.4 L294.05 167.4 L294.55 167.4 L295.05 167.4 L295.55 167.4 L296.04 167.4 L296.54 167.4 L297.04 167.4 L297.54 167.4 L298.04 167.4 L298.53 167.4 L299.03 167.4 L299.53 167.4 L300.03 167.4 L300.53 167.4 L301.03 167.4 L301.52 167.4 L302.02 167.4 L302.52 167.4 L303.02 167.4 L303.52 167.4 L304.01 167.4 L304.51 167.4 L305.01 167.4 L305.51 167.4 L306.01 167.4 L306.5 167.4 L307 167.4 L307.5 167.4 L308 167.4 L308.5 167.4 L309 167.4 L309.49 167.4 L309.99 167.4 L310.49 167.4 L310.99 167.4 L311.49 167.4 L311.98 167.4 L312.48 167.4 L312.98 167.4 L313.48 167.4 L313.98 167.4 L314.47 167.4 L314.97 167.4 L315.47 167.4 L315.97 167.4 L316.47 167.4 L316.97 167.4 L317.46 167.4 L317.96 167.4 L318.46 167.4 L318.96 167.4 L319.46 167.4 L319.95 167.4 L320.45 167.4 L320.95 167.4 L321.45 167.4 L321.95 167.4 L322.44 167.4 L322.94 167.4 L323.44 167.4 L323.94 167.4 L324.44 167.4 L324.94 167.4 L325.43 167.4 L325.93 167.4 L326.43 167.4 L326.93 167.4 L327.43 167.4 L327.92 167.4 L328.42 167.4 L328.92 167.4 L329.42 167.4 L329.92 167.4 L330.41 167.4 L330.91 167.4 L331.41 167.4 L331.91 167.4 L332.41 167.4 L332.91 167.4 L333.4 167.4 L333.9 167.4 L334.4 167.4 L334.9 167.4 L335.4 167.4 L335.89 167.4 L336.39 167.4 L336.89 167.4 L337.39 167.4 L337.89 167.41 L338.39 167.41 L338.88 167.41 L339.38 167.42 L339.88 167.43 L340.38 167.44 L340.88 167.46 L341.37 167.54 L341.87 167.64 L342.37 167.77 L342.87 167.94 L343.37 168.15 L343.86 168.45 L344.36 168.85 L344.86 169.39 L345.36 170.1 L345.86 171.02 L346.36 172.13 L346.85 173.4 L347.35 174.75 L347.85 176.06 L348.35 177.25 L348.85 178.24 L349.34 179.03 L349.84 179.64 L350.34 180.13 L350.84 180.54 L351.34 180.85 L351.83 181.1 L352.33 181.32 L352.83 181.5 L353.33 181.66 L353.83 181.81 L354.33 181.95 L354.82 182.09 L355.32 182.22 L355.82 182.35 L356.32 182.48 L356.82 182.61 L357.31 182.74 L357.81 182.86 L358.31 182.99 L358.81 183.11 L359.31 183.24 L359.8 183.37 L360.3 183.49 L360.8 183.62 L361.3 183.74 L361.8 183.87 L362.3 183.99 L362.79 184.12 L363.29 184.24 L363.79 184.37 L364.29 184.49 L364.79 184.62 L365.28 184.74 L365.78 184.87 L366.28 184.99 L366.78 185.12 L367.28 185.25 L367.77 185.37 L368.27 185.5 L368.77 185.62 L369.27 185.75 L369.77 185.87 L370.27 186 L370.76 186.12 L371.26 186.25 L371.76 186.37 L372.26 186.5 L372.76 186.62 L373.25 186.75 L373.75 186.87 L374.25 187 L374.75 187.12 L375.25 187.25 L375.74 187.38 L376.24 187.5 L376.74 187.63 L377.24 187.75 L377.74 187.88 L378.24 188.01 L378.73 188.13 L379.23 188.26 L379.73 188.39 L380.23 188.52 L380.73 188.65 L381.22 188.79 L381.72 188.93 L382.22 189.09 L382.72 189.25 L383.22 189.38 L383.71 189.47 L384.21 189.59 L384.71 189.78 L385.21 190.05 L385.71 190.44 L386.21 190.99 L386.7 191.74 L387.2 192.75 L387.7 194.03 L388.2 195.58 L388.7 197.33 L389.19 199.17 L389.69 200.95 L390.19 202.55 L390.69 203.89 L391.19 204.96 L391.69 205.77 L392.18 206.36 L392.68 206.78 L393.18 207.07 L393.68 207.27 L394.18 207.41 L394.67 207.5 L395.17 207.57 L395.67 207.61 L396.17 207.64 L396.67 207.66 L397.16 207.67 L397.66 207.68 L398.16 207.69 L398.66 207.69 L399.16 207.69 L399.66 207.7 L400.15 207.7 L400.65 207.7 L401.15 207.7 L401.65 207.7 L402.15 207.7 L402.64 207.7 L403.14 207.7 L403.64 207.7 L404.14 207.7 L404.64 207.7 L405.13 207.7 L405.63 207.7 L406.13 207.7 L406.63 207.7 L407.13 207.7 L407.63 207.7 L408.12 207.7 L408.62 207.7 L409.12 207.7 L409.62 207.7 L410.12 207.7 L410.61 207.7 L411.11 207.7 L411.61 207.7 L412.11 207.7 L412.61 207.7 L413.1 207.7 L413.6 207.7 L414.1 207.7 L414.6 207.7 L415.1 207.7 L415.6 207.7 L416.09 207.7 L416.59 207.7 L417.09 207.7 L417.59 207.7 L418.09 207.7 L418.58 207.7 L419.08 207.7 L419.58 207.7 L420.08 207.7 L420.58 207.7 L421.07 207.7 L421.57 207.7 L422.07 207.7 L422.57 207.7 L423.07 207.7 L423.57 207.7 L424.06 207.7 L424.56 207.7 L425.06 207.7 L425.56 207.7 L426.06 207.7 L426.55 207.7 L427.05 207.7 L427.55 207.7 L428.05 207.7 L428.55 207.7 L429.04 207.7 L429.54 207.7 L430.04 207.7 L430.54 207.7 L431.04 207.7 L431.54 207.7 L432.03 207.7 L432.53 207.7 L433.03 207.7 L433.53 207.7 L434.03 207.7 L434.52 207.7 L435.02 207.7 L435.52 207.7 L436.02 207.7 L436.52 207.7 L437.01 207.7 L437.51 207.7 L438.01 207.7 L438.51 207.7 L439.01 207.7 L439.51 207.7 L440 207.7 L440.5 207.7 L441 207.7" fill="none" stroke="#5a3b25" stroke-width="1.3" stroke-linejoin="round" stroke-linecap="round"/>
<text x="412.6" y="194.65" font-size="8.8" text-anchor="middle" fill="#6b4d3a" font-weight="normal" font-style="normal" letter-spacing="-0.3">10 K</text>
<text x="466.6" y="9.1" font-size="8.5" text-anchor="start" fill="#111" font-weight="bold" font-style="normal" >c</text>
<rect x="493.6" y="1.5" width="190.7" height="221.7" fill="none" stroke="#333" stroke-width="1.3"/>
<line x1="534.25" y1="223.2" x2="534.25" y2="220.2" stroke="#333" stroke-width="1"/>
<text x="532.75" y="235.8" font-size="9" text-anchor="middle" fill="#222" font-weight="normal" font-style="normal" >-40</text>
<line x1="588.95" y1="223.2" x2="588.95" y2="220.2" stroke="#333" stroke-width="1"/>
<text x="588.95" y="235.8" font-size="9" text-anchor="middle" fill="#222" font-weight="normal" font-style="normal" >0</text>
<line x1="643.65" y1="223.2" x2="643.65" y2="220.2" stroke="#333" stroke-width="1"/>
<text x="643.65" y="235.8" font-size="9" text-anchor="middle" fill="#222" font-weight="normal" font-style="normal" >40</text>
<text x="589.45" y="249.4" font-size="10" text-anchor="middle" fill="#222"><tspan font-style="italic">H</tspan><tspan font-size="6.5" font-style="italic" dy="2">z</tspan><tspan dy="-2"> (kOe)</tspan></text>
<text transform="translate(479,112.4) rotate(-90)" font-size="10.5" fill="#222"><tspan font-style="italic">R</tspan><tspan font-size="7" font-style="italic" dy="2.5">xy</tspan></text>
<path d="M508.9 20.5 V49 M506.6 20.5 H511.2 M506.6 49 H511.2" stroke="#333" stroke-width="1" fill="none"/>
<text transform="translate(518.5,35.25) rotate(90)" font-size="9.3" text-anchor="middle" fill="#222">100 m&#937;</text>
<path d="M574.8 12.2 L575.28 12.2 L575.77 12.2 L576.25 12.2 L576.74 12.2 L577.22 12.21 L577.71 12.21 L578.19 12.22 L578.67 12.23 L579.16 12.24 L579.64 12.27 L580.13 12.32 L580.61 12.4 L581.09 12.52 L581.58 12.73 L582.06 13.06 L582.55 13.57 L583.03 14.33 L583.52 15.4 L584 16.79 L584.48 18.41 L584.97 20.08 L585.45 21.61 L585.94 22.85 L586.42 23.78 L586.91 24.43 L587.39 24.89 L587.87 25.22 L588.36 25.49 L588.84 25.76 L589.33 26.05 L589.81 26.43 L590.29 26.93 L590.78 27.6 L591.26 28.48 L591.75 29.56 L592.23 30.84 L592.72 32.25 L593.2 33.67 L593.68 35 L594.17 36.16 L594.65 37.1 L595.14 37.83 L595.62 38.36 L596.11 38.75 L596.59 39.02 L597.07 39.21 L597.56 39.34 L598.04 39.42 L598.53 39.48 L599.01 39.52 L599.49 39.55 L599.98 39.56 L600.46 39.58 L600.95 39.58 L601.43 39.59 L601.92 39.59 L602.4 39.6" fill="none" stroke="#6fa84f" stroke-width="1.8" stroke-linejoin="round" stroke-linecap="round"/>
<text x="644.5" y="32.75" font-size="8.8" text-anchor="middle" fill="#7fb25f" font-weight="normal" font-style="normal" letter-spacing="-0.3">150 K</text>
<path d="M561.2 42.6 L561.69 42.6 L562.19 42.6 L562.68 42.6 L563.17 42.6 L563.67 42.6 L564.16 42.6 L564.66 42.6 L565.15 42.6 L565.64 42.6 L566.14 42.6 L566.63 42.6 L567.12 42.6 L567.62 42.6 L568.11 42.6 L568.61 42.6 L569.1 42.6 L569.59 42.6 L570.09 42.6 L570.58 42.6 L571.07 42.6 L571.57 42.6 L572.06 42.61 L572.55 42.61 L573.05 42.62 L573.54 42.63 L574.04 42.65 L574.53 42.68 L575.02 42.73 L575.52 42.81 L576.01 42.94 L576.5 43.15 L577 43.49 L577.49 44 L577.99 44.77 L578.48 45.87 L578.97 47.32 L579.47 49.07 L579.96 50.97 L580.45 52.8 L580.95 54.37 L581.44 55.58 L581.94 56.46 L582.43 57.06 L582.92 57.45 L583.42 57.75 L583.91 57.98 L584.4 58.15 L584.9 58.28 L585.39 58.38 L585.88 58.48 L586.38 58.56 L586.87 58.64 L587.37 58.72 L587.86 58.79 L588.35 58.86 L588.85 58.93 L589.34 59.01 L589.83 59.08 L590.33 59.15 L590.82 59.22 L591.32 59.29 L591.81 59.36 L592.3 59.44 L592.8 59.51 L593.29 59.59 L593.78 59.68 L594.28 59.78 L594.77 59.89 L595.26 60.03 L595.76 60.21 L596.25 60.46 L596.75 60.81 L597.24 61.27 L597.73 61.91 L598.23 62.81 L598.72 64 L599.21 65.42 L599.71 66.94 L600.2 68.39 L600.7 69.62 L601.19 70.57 L601.68 71.24 L602.18 71.7 L602.67 72 L603.16 72.19 L603.66 72.31 L604.15 72.38 L604.65 72.43 L605.14 72.46 L605.63 72.47 L606.13 72.48 L606.62 72.49 L607.11 72.49 L607.61 72.5 L608.1 72.5 L608.59 72.5 L609.09 72.5 L609.58 72.5 L610.08 72.5 L610.57 72.5 L611.06 72.5 L611.56 72.5 L612.05 72.5 L612.54 72.5 L613.04 72.5 L613.53 72.5 L614.03 72.5 L614.52 72.5 L615.01 72.5 L615.51 72.5 L616 72.5" fill="none" stroke="#b5d56b" stroke-width="1.5" stroke-linejoin="round" stroke-linecap="round"/>
<path d="M561.2 42.6 L561.69 42.6 L562.19 42.6 L562.68 42.6 L563.17 42.6 L563.67 42.6 L564.16 42.6 L564.66 42.6 L565.15 42.6 L565.64 42.6 L566.14 42.6 L566.63 42.6 L567.12 42.6 L567.62 42.6 L568.11 42.6 L568.61 42.6 L569.1 42.6 L569.59 42.6 L570.09 42.6 L570.58 42.6 L571.07 42.6 L571.57 42.6 L572.06 42.6 L572.55 42.6 L573.05 42.61 L573.54 42.61 L574.04 42.62 L574.53 42.64 L575.02 42.66 L575.52 42.7 L576.01 42.76 L576.5 42.85 L577 43.01 L577.49 43.26 L577.99 43.66 L578.48 44.26 L578.97 45.15 L579.47 46.37 L579.96 47.95 L580.45 49.79 L580.95 51.68 L581.44 53.43 L581.94 54.87 L582.43 55.96 L582.92 56.72 L583.42 57.28 L583.91 57.68 L584.4 57.96 L584.9 58.16 L585.39 58.31 L585.88 58.43 L586.38 58.53 L586.87 58.62 L587.37 58.71 L587.86 58.78 L588.35 58.86 L588.85 58.93 L589.34 59 L589.83 59.08 L590.33 59.15 L590.82 59.22 L591.32 59.29 L591.81 59.36 L592.3 59.43 L592.8 59.51 L593.29 59.58 L593.78 59.66 L594.28 59.74 L594.77 59.84 L595.26 59.94 L595.76 60.07 L596.25 60.23 L596.75 60.44 L597.24 60.71 L597.73 61.07 L598.23 61.61 L598.72 62.4 L599.21 63.47 L599.71 64.81 L600.2 66.31 L600.7 67.81 L601.19 69.14 L601.68 70.21 L602.18 70.99 L602.67 71.53 L603.16 71.89 L603.66 72.12 L604.15 72.27 L604.65 72.36 L605.14 72.41 L605.63 72.45 L606.13 72.47 L606.62 72.48 L607.11 72.49 L607.61 72.49 L608.1 72.5 L608.59 72.5 L609.09 72.5 L609.58 72.5 L610.08 72.5 L610.57 72.5 L611.06 72.5 L611.56 72.5 L612.05 72.5 L612.54 72.5 L613.04 72.5 L613.53 72.5 L614.03 72.5 L614.52 72.5 L615.01 72.5 L615.51 72.5 L616 72.5" fill="none" stroke="#b5d56b" stroke-width="1.5" stroke-linejoin="round" stroke-linecap="round"/>
<text x="644.5" y="66.05" font-size="8.8" text-anchor="middle" fill="#a8c862" font-weight="normal" font-style="normal" letter-spacing="-0.3">120 K</text>
<path d="M548.1 74 L548.6 74 L549.09 74 L549.59 74 L550.08 74 L550.58 74.02 L551.07 74.03 L551.57 74.04 L552.06 74.06 L552.56 74.07 L553.05 74.09 L553.55 74.1 L554.04 74.12 L554.54 74.13 L555.03 74.14 L555.53 74.16 L556.02 74.17 L556.52 74.19 L557.01 74.2 L557.51 74.21 L558 74.23 L558.5 74.24 L558.99 74.26 L559.49 74.27 L559.98 74.29 L560.48 74.3 L560.97 74.31 L561.47 74.33 L561.96 74.34 L562.46 74.36 L562.95 74.37 L563.45 74.38 L563.94 74.4 L564.44 74.41 L564.93 74.43 L565.43 74.44 L565.92 74.46 L566.42 74.47 L566.91 74.49 L567.41 74.51 L567.9 74.53 L568.4 74.55 L568.9 74.58 L569.39 74.62 L569.89 74.67 L570.38 74.74 L570.88 74.85 L571.37 75 L571.87 75.23 L572.36 75.58 L572.86 76.11 L573.35 76.89 L573.85 77.97 L574.34 79.38 L574.84 81.06 L575.33 82.89 L575.83 84.66 L576.32 86.21 L576.82 87.45 L577.31 88.36 L577.81 89 L578.3 89.43 L578.8 89.71 L579.29 89.93 L579.79 90.11 L580.28 90.25 L580.78 90.37 L581.27 90.46 L581.77 90.55 L582.26 90.63 L582.76 90.7 L583.25 90.77 L583.75 90.84 L584.24 90.91 L584.74 90.98 L585.23 91.05 L585.73 91.12 L586.22 91.18 L586.72 91.25 L587.21 91.32 L587.71 91.39 L588.2 91.46 L588.7 91.52 L589.2 91.59 L589.69 91.66 L590.19 91.73 L590.68 91.79 L591.18 91.86 L591.67 91.93 L592.17 92 L592.66 92.06 L593.16 92.13 L593.65 92.2 L594.15 92.27 L594.64 92.33 L595.14 92.4 L595.63 92.47 L596.13 92.54 L596.62 92.61 L597.12 92.68 L597.61 92.75 L598.11 92.83 L598.6 92.91 L599.1 93.01 L599.59 93.11 L600.09 93.25 L600.58 93.42 L601.08 93.65 L601.57 93.92 L602.07 94.34 L602.56 94.97 L603.06 95.85 L603.55 97 L604.05 98.36 L604.54 99.82 L605.04 101.19 L605.53 102.34 L606.03 103.22 L606.52 103.85 L607.02 104.27 L607.51 104.54 L608.01 104.72 L608.5 104.83 L609 104.89 L609.5 104.96 L609.99 105.01 L610.49 105.05 L610.98 105.08 L611.48 105.11 L611.97 105.14 L612.47 105.17 L612.96 105.2 L613.46 105.22 L613.95 105.25 L614.45 105.27 L614.94 105.3 L615.44 105.32 L615.93 105.35 L616.43 105.37 L616.92 105.4 L617.42 105.42 L617.91 105.45 L618.41 105.47 L618.9 105.5 L619.4 105.52 L619.89 105.54 L620.39 105.57 L620.88 105.59 L621.38 105.62 L621.87 105.64 L622.37 105.67 L622.86 105.69 L623.36 105.72 L623.85 105.74 L624.35 105.77 L624.84 105.79 L625.34 105.82 L625.83 105.84 L626.33 105.87 L626.82 105.89 L627.32 105.92 L627.81 105.94 L628.31 105.97 L628.8 105.99 L629.3 106" fill="none" stroke="#f6c25c" stroke-width="1.4" stroke-linejoin="round" stroke-linecap="round"/>
<path d="M548.1 74 L548.6 74 L549.09 74 L549.59 74 L550.08 74 L550.58 74.02 L551.07 74.03 L551.57 74.04 L552.06 74.06 L552.56 74.07 L553.05 74.09 L553.55 74.1 L554.04 74.12 L554.54 74.13 L555.03 74.14 L555.53 74.16 L556.02 74.17 L556.52 74.19 L557.01 74.2 L557.51 74.21 L558 74.23 L558.5 74.24 L558.99 74.26 L559.49 74.27 L559.98 74.29 L560.48 74.3 L560.97 74.31 L561.47 74.33 L561.96 74.34 L562.46 74.36 L562.95 74.37 L563.45 74.38 L563.94 74.4 L564.44 74.41 L564.93 74.43 L565.43 74.44 L565.92 74.46 L566.42 74.47 L566.91 74.49 L567.41 74.5 L567.9 74.52 L568.4 74.54 L568.9 74.56 L569.39 74.59 L569.89 74.62 L570.38 74.66 L570.88 74.73 L571.37 74.81 L571.87 74.93 L572.36 75.12 L572.86 75.41 L573.35 75.87 L573.85 76.53 L574.34 77.48 L574.84 78.76 L575.33 80.34 L575.83 82.13 L576.32 83.95 L576.82 85.61 L577.31 86.98 L577.81 88.02 L578.3 88.76 L578.8 89.27 L579.29 89.65 L579.79 89.93 L580.28 90.14 L580.78 90.29 L581.27 90.42 L581.77 90.52 L582.26 90.61 L582.76 90.69 L583.25 90.77 L583.75 90.84 L584.24 90.91 L584.74 90.98 L585.23 91.05 L585.73 91.12 L586.22 91.18 L586.72 91.25 L587.21 91.32 L587.71 91.39 L588.2 91.46 L588.7 91.52 L589.2 91.59 L589.69 91.66 L590.19 91.73 L590.68 91.79 L591.18 91.86 L591.67 91.93 L592.17 92 L592.66 92.06 L593.16 92.13 L593.65 92.2 L594.15 92.27 L594.64 92.33 L595.14 92.4 L595.63 92.47 L596.13 92.54 L596.62 92.61 L597.12 92.67 L597.61 92.75 L598.11 92.82 L598.6 92.89 L599.1 92.97 L599.59 93.06 L600.09 93.16 L600.58 93.28 L601.08 93.43 L601.57 93.57 L602.07 93.8 L602.56 94.15 L603.06 94.68 L603.55 95.45 L604.05 96.49 L604.54 97.78 L605.04 99.22 L605.53 100.64 L606.03 101.89 L606.52 102.89 L607.02 103.62 L607.51 104.12 L608.01 104.45 L608.5 104.66 L609 104.79 L609.5 104.89 L609.99 104.97 L610.49 105.03 L610.98 105.07 L611.48 105.11 L611.97 105.14 L612.47 105.17 L612.96 105.19 L613.46 105.22 L613.95 105.25 L614.45 105.27 L614.94 105.3 L615.44 105.32 L615.93 105.35 L616.43 105.37 L616.92 105.4 L617.42 105.42 L617.91 105.45 L618.41 105.47 L618.9 105.5 L619.4 105.52 L619.89 105.54 L620.39 105.57 L620.88 105.59 L621.38 105.62 L621.87 105.64 L622.37 105.67 L622.86 105.69 L623.36 105.72 L623.85 105.74 L624.35 105.77 L624.84 105.79 L625.34 105.82 L625.83 105.84 L626.33 105.87 L626.82 105.89 L627.32 105.92 L627.81 105.94 L628.31 105.97 L628.8 105.99 L629.3 106" fill="none" stroke="#f6c25c" stroke-width="1.4" stroke-linejoin="round" stroke-linecap="round"/>
<text x="644.5" y="92.45" font-size="8.8" text-anchor="middle" fill="#f3c06c" font-weight="normal" font-style="normal" letter-spacing="-0.3">90 K</text>
<path d="M506.9 105.8 L507.4 105.8 L507.9 105.8 L508.39 105.8 L508.89 105.8 L509.39 105.8 L509.89 105.8 L510.38 105.8 L510.88 105.8 L511.38 105.8 L511.88 105.8 L512.37 105.8 L512.87 105.8 L513.37 105.8 L513.87 105.8 L514.36 105.8 L514.86 105.8 L515.36 105.8 L515.86 105.8 L516.35 105.8 L516.85 105.8 L517.35 105.8 L517.85 105.8 L518.34 105.8 L518.84 105.8 L519.34 105.8 L519.84 105.8 L520.33 105.8 L520.83 105.8 L521.33 105.8 L521.83 105.8 L522.32 105.8 L522.82 105.8 L523.32 105.8 L523.82 105.8 L524.31 105.8 L524.81 105.8 L525.31 105.8 L525.81 105.8 L526.31 105.8 L526.8 105.8 L527.3 105.8 L527.8 105.8 L528.3 105.8 L528.79 105.8 L529.29 105.8 L529.79 105.8 L530.29 105.8 L530.78 105.8 L531.28 105.8 L531.78 105.8 L532.28 105.8 L532.77 105.8 L533.27 105.8 L533.77 105.8 L534.27 105.8 L534.76 105.8 L535.26 105.8 L535.76 105.8 L536.26 105.8 L536.75 105.8 L537.25 105.8 L537.75 105.8 L538.25 105.8 L538.74 105.8 L539.24 105.8 L539.74 105.8 L540.24 105.8 L540.73 105.8 L541.23 105.8 L541.73 105.8 L542.23 105.8 L542.72 105.8 L543.22 105.8 L543.72 105.8 L544.22 105.8 L544.72 105.8 L545.21 105.8 L545.71 105.8 L546.21 105.8 L546.71 105.8 L547.2 105.8 L547.7 105.8 L548.2 105.8 L548.7 105.8 L549.19 105.8 L549.69 105.8 L550.19 105.8 L550.69 105.8 L551.18 105.8 L551.68 105.8 L552.18 105.8 L552.68 105.8 L553.17 105.8 L553.67 105.8 L554.17 105.8 L554.67 105.8 L555.16 105.8 L555.66 105.8 L556.16 105.8 L556.66 105.8 L557.15 105.8 L557.65 105.8 L558.15 105.8 L558.65 105.8 L559.14 105.81 L559.64 105.81 L560.14 105.82 L560.64 105.84 L561.13 105.87 L561.63 105.92 L562.13 106.01 L562.63 106.17 L563.13 106.43 L563.62 106.86 L564.12 107.56 L564.62 108.63 L565.12 110.16 L565.61 112.11 L566.11 114.29 L566.61 116.4 L567.11 118.18 L567.6 119.49 L568.1 120.39 L568.6 120.96 L569.1 121.3 L569.59 121.51 L570.09 121.64 L570.59 121.76 L571.09 121.84 L571.58 121.91 L572.08 121.97 L572.58 122.02 L573.08 122.07 L573.57 122.11 L574.07 122.16 L574.57 122.2 L575.07 122.25 L575.56 122.29 L576.06 122.34 L576.56 122.38 L577.06 122.43 L577.55 122.47 L578.05 122.52 L578.55 122.56 L579.05 122.6 L579.54 122.65 L580.04 122.69 L580.54 122.74 L581.04 122.78 L581.54 122.83 L582.03 122.87 L582.53 122.91 L583.03 122.96 L583.53 123 L584.02 123.05 L584.52 123.09 L585.02 123.13 L585.52 123.18 L586.01 123.22 L586.51 123.27 L587.01 123.31 L587.51 123.36 L588 123.4 L588.5 123.44 L589 123.49 L589.5 123.53 L589.99 123.58 L590.49 123.62 L590.99 123.67 L591.49 123.71 L591.98 123.75 L592.48 123.8 L592.98 123.84 L593.48 123.89 L593.97 123.93 L594.47 123.98 L594.97 124.02 L595.47 124.06 L595.96 124.11 L596.46 124.15 L596.96 124.2 L597.46 124.24 L597.96 124.28 L598.45 124.33 L598.95 124.37 L599.45 124.42 L599.95 124.46 L600.44 124.51 L600.94 124.55 L601.44 124.59 L601.94 124.64 L602.43 124.68 L602.93 124.73 L603.43 124.77 L603.93 124.82 L604.42 124.87 L604.92 124.93 L605.42 125 L605.92 125.08 L606.41 125.18 L606.91 125.34 L607.41 125.64 L607.91 126.17 L608.4 127.07 L608.9 128.42 L609.4 130.13 L609.9 131.92 L610.39 133.44 L610.89 134.51 L611.39 135.18 L611.89 135.56 L612.38 135.78 L612.88 135.9 L613.38 135.98 L613.88 136.02 L614.37 136.05 L614.87 136.07 L615.37 136.09 L615.87 136.1 L616.37 136.12 L616.86 136.13 L617.36 136.15 L617.86 136.16 L618.36 136.18 L618.85 136.19 L619.35 136.2 L619.85 136.22 L620.35 136.23 L620.84 136.24 L621.34 136.26 L621.84 136.27 L622.34 136.29 L622.83 136.3 L623.33 136.31 L623.83 136.33 L624.33 136.34 L624.82 136.35 L625.32 136.37 L625.82 136.38 L626.32 136.39 L626.81 136.41 L627.31 136.42 L627.81 136.44 L628.31 136.45 L628.8 136.46 L629.3 136.48 L629.8 136.49 L630.3 136.5 L630.79 136.52 L631.29 136.53 L631.79 136.55 L632.29 136.56 L632.78 136.57 L633.28 136.59 L633.78 136.6 L634.28 136.61 L634.78 136.63 L635.27 136.64 L635.77 136.66 L636.27 136.67 L636.77 136.68 L637.26 136.7 L637.76 136.71 L638.26 136.72 L638.76 136.74 L639.25 136.75 L639.75 136.77 L640.25 136.78 L640.75 136.79 L641.24 136.81 L641.74 136.82 L642.24 136.83 L642.74 136.85 L643.23 136.86 L643.73 136.88 L644.23 136.89 L644.73 136.9 L645.22 136.92 L645.72 136.93 L646.22 136.94 L646.72 136.96 L647.21 136.97 L647.71 136.99 L648.21 137 L648.71 137.01 L649.2 137.03 L649.7 137.04 L650.2 137.05 L650.7 137.07 L651.19 137.08 L651.69 137.09 L652.19 137.11 L652.69 137.12 L653.19 137.14 L653.68 137.15 L654.18 137.16 L654.68 137.18 L655.18 137.19 L655.67 137.2 L656.17 137.22 L656.67 137.23 L657.17 137.25 L657.66 137.26 L658.16 137.27 L658.66 137.29 L659.16 137.3 L659.65 137.31 L660.15 137.33 L660.65 137.34 L661.15 137.36 L661.64 137.37 L662.14 137.38 L662.64 137.4 L663.14 137.41 L663.63 137.42 L664.13 137.44 L664.63 137.45 L665.13 137.47 L665.62 137.48 L666.12 137.49 L666.62 137.51 L667.12 137.52 L667.61 137.53 L668.11 137.55 L668.61 137.56 L669.11 137.58 L669.6 137.59 L670.1 137.6 L670.6 137.6" fill="none" stroke="#f08a3c" stroke-width="1.4" stroke-linejoin="round" stroke-linecap="round"/>
<path d="M506.9 105.8 L507.4 105.8 L507.9 105.8 L508.39 105.8 L508.89 105.8 L509.39 105.8 L509.89 105.8 L510.38 105.8 L510.88 105.8 L511.38 105.8 L511.88 105.8 L512.37 105.8 L512.87 105.8 L513.37 105.8 L513.87 105.8 L514.36 105.8 L514.86 105.8 L515.36 105.8 L515.86 105.8 L516.35 105.8 L516.85 105.8 L517.35 105.8 L517.85 105.8 L518.34 105.8 L518.84 105.8 L519.34 105.8 L519.84 105.8 L520.33 105.8 L520.83 105.8 L521.33 105.8 L521.83 105.8 L522.32 105.8 L522.82 105.8 L523.32 105.8 L523.82 105.8 L524.31 105.8 L524.81 105.8 L525.31 105.8 L525.81 105.8 L526.31 105.8 L526.8 105.8 L527.3 105.8 L527.8 105.8 L528.3 105.8 L528.79 105.8 L529.29 105.8 L529.79 105.8 L530.29 105.8 L530.78 105.8 L531.28 105.8 L531.78 105.8 L532.28 105.8 L532.77 105.8 L533.27 105.8 L533.77 105.8 L534.27 105.8 L534.76 105.8 L535.26 105.8 L535.76 105.8 L536.26 105.8 L536.75 105.8 L537.25 105.8 L537.75 105.8 L538.25 105.8 L538.74 105.8 L539.24 105.8 L539.74 105.8 L540.24 105.8 L540.73 105.8 L541.23 105.8 L541.73 105.8 L542.23 105.8 L542.72 105.8 L543.22 105.8 L543.72 105.8 L544.22 105.8 L544.72 105.8 L545.21 105.8 L545.71 105.8 L546.21 105.8 L546.71 105.8 L547.2 105.8 L547.7 105.8 L548.2 105.8 L548.7 105.8 L549.19 105.8 L549.69 105.8 L550.19 105.8 L550.69 105.8 L551.18 105.8 L551.68 105.8 L552.18 105.8 L552.68 105.8 L553.17 105.8 L553.67 105.8 L554.17 105.8 L554.67 105.8 L555.16 105.8 L555.66 105.8 L556.16 105.8 L556.66 105.8 L557.15 105.8 L557.65 105.8 L558.15 105.8 L558.65 105.8 L559.14 105.8 L559.64 105.8 L560.14 105.8 L560.64 105.8 L561.13 105.8 L561.63 105.8 L562.13 105.8 L562.63 105.8 L563.13 105.8 L563.62 105.8 L564.12 105.8 L564.62 105.81 L565.12 105.81 L565.61 105.82 L566.11 105.84 L566.61 105.88 L567.11 105.93 L567.6 106.02 L568.1 106.19 L568.6 106.46 L569.1 106.92 L569.59 107.66 L570.09 108.79 L570.59 110.41 L571.09 112.5 L571.58 114.85 L572.08 117.15 L572.58 119.09 L573.08 120.54 L573.57 121.53 L574.07 122.16 L574.57 122.55 L575.07 122.78 L575.56 122.95 L576.06 123.06 L576.56 123.13 L577.06 123.19 L577.55 123.24 L578.05 123.28 L578.55 123.31 L579.05 123.35 L579.54 123.38 L580.04 123.41 L580.54 123.44 L581.04 123.47 L581.54 123.51 L582.03 123.54 L582.53 123.57 L583.03 123.6 L583.53 123.63 L584.02 123.66 L584.52 123.69 L585.02 123.72 L585.52 123.75 L586.01 123.78 L586.51 123.82 L587.01 123.85 L587.51 123.88 L588 123.91 L588.5 123.94 L589 123.97 L589.5 124 L589.99 124.03 L590.49 124.06 L590.99 124.09 L591.49 124.12 L591.98 124.16 L592.48 124.19 L592.98 124.22 L593.48 124.25 L593.97 124.28 L594.47 124.31 L594.97 124.34 L595.47 124.37 L595.96 124.4 L596.46 124.43 L596.96 124.47 L597.46 124.5 L597.96 124.53 L598.45 124.56 L598.95 124.59 L599.45 124.62 L599.95 124.65 L600.44 124.68 L600.94 124.71 L601.44 124.74 L601.94 124.77 L602.43 124.81 L602.93 124.84 L603.43 124.87 L603.93 124.9 L604.42 124.93 L604.92 124.96 L605.42 124.99 L605.92 125.02 L606.41 125.05 L606.91 125.08 L607.41 125.11 L607.91 125.15 L608.4 125.18 L608.9 125.21 L609.4 125.24 L609.9 125.28 L610.39 125.31 L610.89 125.35 L611.39 125.41 L611.89 125.48 L612.38 125.56 L612.88 125.71 L613.38 125.99 L613.88 126.49 L614.37 127.33 L614.87 128.6 L615.37 130.24 L615.87 131.97 L616.37 133.46 L616.86 134.52 L617.36 135.18 L617.86 135.56 L618.36 135.78 L618.85 135.91 L619.35 135.98 L619.85 136.02 L620.35 136.06 L620.84 136.08 L621.34 136.1 L621.84 136.12 L622.34 136.13 L622.83 136.15 L623.33 136.16 L623.83 136.18 L624.33 136.19 L624.82 136.21 L625.32 136.23 L625.82 136.24 L626.32 136.26 L626.81 136.27 L627.31 136.29 L627.81 136.3 L628.31 136.32 L628.8 136.33 L629.3 136.35 L629.8 136.36 L630.3 136.38 L630.79 136.39 L631.29 136.41 L631.79 136.42 L632.29 136.44 L632.78 136.45 L633.28 136.47 L633.78 136.49 L634.28 136.5 L634.78 136.52 L635.27 136.53 L635.77 136.55 L636.27 136.56 L636.77 136.58 L637.26 136.59 L637.76 136.61 L638.26 136.62 L638.76 136.64 L639.25 136.65 L639.75 136.67 L640.25 136.68 L640.75 136.7 L641.24 136.72 L641.74 136.73 L642.24 136.75 L642.74 136.76 L643.23 136.78 L643.73 136.79 L644.23 136.81 L644.73 136.82 L645.22 136.84 L645.72 136.85 L646.22 136.87 L646.72 136.88 L647.21 136.9 L647.71 136.91 L648.21 136.93 L648.71 136.94 L649.2 136.96 L649.7 136.98 L650.2 136.99 L650.7 137.01 L651.19 137.02 L651.69 137.04 L652.19 137.05 L652.69 137.07 L653.19 137.08 L653.68 137.1 L654.18 137.11 L654.68 137.13 L655.18 137.14 L655.67 137.16 L656.17 137.17 L656.67 137.19 L657.17 137.21 L657.66 137.22 L658.16 137.24 L658.66 137.25 L659.16 137.27 L659.65 137.28 L660.15 137.3 L660.65 137.31 L661.15 137.33 L661.64 137.34 L662.14 137.36 L662.64 137.37 L663.14 137.39 L663.63 137.4 L664.13 137.42 L664.63 137.43 L665.13 137.45 L665.62 137.47 L666.12 137.48 L666.62 137.5 L667.12 137.51 L667.61 137.53 L668.11 137.54 L668.61 137.56 L669.11 137.57 L669.6 137.59 L670.1 137.6 L670.6 137.6" fill="none" stroke="#f08a3c" stroke-width="1.4" stroke-linejoin="round" stroke-linecap="round"/>
<text x="644.5" y="129.75" font-size="8.8" text-anchor="middle" fill="#ef9a58" font-weight="normal" font-style="normal" letter-spacing="-0.3">50 K</text>
<path d="M506.9 136.6 L507.4 136.6 L507.9 136.6 L508.39 136.6 L508.89 136.6 L509.39 136.6 L509.89 136.6 L510.38 136.6 L510.88 136.6 L511.38 136.6 L511.88 136.6 L512.37 136.6 L512.87 136.6 L513.37 136.6 L513.87 136.6 L514.36 136.6 L514.86 136.6 L515.36 136.6 L515.86 136.6 L516.35 136.6 L516.85 136.6 L517.35 136.6 L517.85 136.6 L518.34 136.6 L518.84 136.6 L519.34 136.6 L519.84 136.6 L520.33 136.6 L520.83 136.6 L521.33 136.6 L521.83 136.6 L522.32 136.6 L522.82 136.6 L523.32 136.6 L523.82 136.6 L524.31 136.6 L524.81 136.6 L525.31 136.6 L525.81 136.6 L526.31 136.6 L526.8 136.6 L527.3 136.6 L527.8 136.6 L528.3 136.6 L528.79 136.6 L529.29 136.6 L529.79 136.6 L530.29 136.6 L530.78 136.6 L531.28 136.6 L531.78 136.6 L532.28 136.6 L532.77 136.6 L533.27 136.6 L533.77 136.6 L534.27 136.6 L534.76 136.6 L535.26 136.6 L535.76 136.6 L536.26 136.6 L536.75 136.6 L537.25 136.6 L537.75 136.6 L538.25 136.6 L538.74 136.6 L539.24 136.6 L539.74 136.6 L540.24 136.6 L540.73 136.6 L541.23 136.6 L541.73 136.6 L542.23 136.6 L542.72 136.6 L543.22 136.6 L543.72 136.6 L544.22 136.6 L544.72 136.6 L545.21 136.6 L545.71 136.6 L546.21 136.6 L546.71 136.6 L547.2 136.6 L547.7 136.6 L548.2 136.6 L548.7 136.6 L549.19 136.6 L549.69 136.6 L550.19 136.6 L550.69 136.6 L551.18 136.6 L551.68 136.6 L552.18 136.61 L552.68 136.61 L553.17 136.62 L553.67 136.64 L554.17 136.67 L554.67 136.72 L555.16 136.82 L555.66 136.97 L556.16 137.23 L556.66 137.67 L557.15 138.37 L557.65 139.43 L558.15 140.94 L558.65 142.85 L559.14 144.97 L559.64 147 L560.14 148.69 L560.64 149.94 L561.13 150.78 L561.63 151.31 L562.13 151.64 L562.63 151.83 L563.13 151.95 L563.62 152.06 L564.12 152.14 L564.62 152.2 L565.12 152.25 L565.61 152.3 L566.11 152.35 L566.61 152.39 L567.11 152.43 L567.6 152.47 L568.1 152.51 L568.6 152.56 L569.1 152.6 L569.59 152.64 L570.09 152.68 L570.59 152.72 L571.09 152.76 L571.58 152.8 L572.08 152.84 L572.58 152.88 L573.08 152.92 L573.57 152.96 L574.07 153 L574.57 153.04 L575.07 153.08 L575.56 153.12 L576.06 153.16 L576.56 153.2 L577.06 153.24 L577.55 153.28 L578.05 153.33 L578.55 153.37 L579.05 153.41 L579.54 153.45 L580.04 153.49 L580.54 153.53 L581.04 153.57 L581.54 153.61 L582.03 153.65 L582.53 153.69 L583.03 153.73 L583.53 153.77 L584.02 153.81 L584.52 153.85 L585.02 153.89 L585.52 153.93 L586.01 153.97 L586.51 154.01 L587.01 154.05 L587.51 154.09 L588 154.14 L588.5 154.18 L589 154.22 L589.5 154.26 L589.99 154.3 L590.49 154.34 L590.99 154.38 L591.49 154.42 L591.98 154.46 L592.48 154.5 L592.98 154.54 L593.48 154.58 L593.97 154.62 L594.47 154.66 L594.97 154.7 L595.47 154.74 L595.96 154.78 L596.46 154.82 L596.96 154.86 L597.46 154.9 L597.96 154.95 L598.45 154.99 L598.95 155.03 L599.45 155.07 L599.95 155.11 L600.44 155.15 L600.94 155.19 L601.44 155.23 L601.94 155.27 L602.43 155.31 L602.93 155.35 L603.43 155.39 L603.93 155.44 L604.42 155.48 L604.92 155.54 L605.42 155.6 L605.92 155.68 L606.41 155.78 L606.91 155.94 L607.41 156.24 L607.91 156.77 L608.4 157.67 L608.9 159.02 L609.4 160.73 L609.9 162.52 L610.39 164.04 L610.89 165.11 L611.39 165.78 L611.89 166.16 L612.38 166.37 L612.88 166.48 L613.38 166.55 L613.88 166.58 L614.37 166.61 L614.87 166.63 L615.37 166.64 L615.87 166.65 L616.37 166.66 L616.86 166.67 L617.36 166.68 L617.86 166.69 L618.36 166.7 L618.85 166.71 L619.35 166.72 L619.85 166.73 L620.35 166.74 L620.84 166.75 L621.34 166.76 L621.84 166.77 L622.34 166.78 L622.83 166.79 L623.33 166.8 L623.83 166.81 L624.33 166.82 L624.82 166.83 L625.32 166.84 L625.82 166.85 L626.32 166.86 L626.81 166.87 L627.31 166.88 L627.81 166.89 L628.31 166.9 L628.8 166.9 L629.3 166.91 L629.8 166.92 L630.3 166.93 L630.79 166.94 L631.29 166.95 L631.79 166.96 L632.29 166.97 L632.78 166.98 L633.28 166.99 L633.78 167 L634.28 167.01 L634.78 167.02 L635.27 167.03 L635.77 167.04 L636.27 167.05 L636.77 167.06 L637.26 167.07 L637.76 167.08 L638.26 167.09 L638.76 167.1 L639.25 167.11 L639.75 167.12 L640.25 167.13 L640.75 167.14 L641.24 167.15 L641.74 167.15 L642.24 167.16 L642.74 167.17 L643.23 167.18 L643.73 167.19 L644.23 167.2 L644.73 167.21 L645.22 167.22 L645.72 167.23 L646.22 167.24 L646.72 167.25 L647.21 167.26 L647.71 167.27 L648.21 167.28 L648.71 167.29 L649.2 167.3 L649.7 167.31 L650.2 167.32 L650.7 167.33 L651.19 167.34 L651.69 167.35 L652.19 167.36 L652.69 167.37 L653.19 167.38 L653.68 167.39 L654.18 167.39 L654.68 167.4 L655.18 167.41 L655.67 167.42 L656.17 167.43 L656.67 167.44 L657.17 167.45 L657.66 167.46 L658.16 167.47 L658.66 167.48 L659.16 167.49 L659.65 167.5 L660.15 167.51 L660.65 167.52 L661.15 167.53 L661.64 167.54 L662.14 167.55 L662.64 167.56 L663.14 167.57 L663.63 167.58 L664.13 167.59 L664.63 167.6 L665.13 167.61 L665.62 167.62 L666.12 167.63 L666.62 167.63 L667.12 167.64 L667.61 167.65 L668.11 167.66 L668.61 167.67 L669.11 167.68 L669.6 167.69 L670.1 167.7 L670.6 167.7" fill="none" stroke="#b86a3f" stroke-width="1.3" stroke-linejoin="round" stroke-linecap="round"/>
<path d="M506.9 136.6 L507.4 136.6 L507.9 136.6 L508.39 136.6 L508.89 136.6 L509.39 136.6 L509.89 136.6 L510.38 136.6 L510.88 136.6 L511.38 136.6 L511.88 136.6 L512.37 136.6 L512.87 136.6 L513.37 136.6 L513.87 136.6 L514.36 136.6 L514.86 136.6 L515.36 136.6 L515.86 136.6 L516.35 136.6 L516.85 136.6 L517.35 136.6 L517.85 136.6 L518.34 136.6 L518.84 136.6 L519.34 136.6 L519.84 136.6 L520.33 136.6 L520.83 136.6 L521.33 136.6 L521.83 136.6 L522.32 136.6 L522.82 136.6 L523.32 136.6 L523.82 136.6 L524.31 136.6 L524.81 136.6 L525.31 136.6 L525.81 136.6 L526.31 136.6 L526.8 136.6 L527.3 136.6 L527.8 136.6 L528.3 136.6 L528.79 136.6 L529.29 136.6 L529.79 136.6 L530.29 136.6 L530.78 136.6 L531.28 136.6 L531.78 136.6 L532.28 136.6 L532.77 136.6 L533.27 136.6 L533.77 136.6 L534.27 136.6 L534.76 136.6 L535.26 136.6 L535.76 136.6 L536.26 136.6 L536.75 136.6 L537.25 136.6 L537.75 136.6 L538.25 136.6 L538.74 136.6 L539.24 136.6 L539.74 136.6 L540.24 136.6 L540.73 136.6 L541.23 136.6 L541.73 136.6 L542.23 136.6 L542.72 136.6 L543.22 136.6 L543.72 136.6 L544.22 136.6 L544.72 136.6 L545.21 136.6 L545.71 136.6 L546.21 136.6 L546.71 136.6 L547.2 136.6 L547.7 136.6 L548.2 136.6 L548.7 136.6 L549.19 136.6 L549.69 136.6 L550.19 136.6 L550.69 136.6 L551.18 136.6 L551.68 136.6 L552.18 136.6 L552.68 136.6 L553.17 136.6 L553.67 136.6 L554.17 136.6 L554.67 136.6 L555.16 136.6 L555.66 136.6 L556.16 136.6 L556.66 136.6 L557.15 136.6 L557.65 136.6 L558.15 136.6 L558.65 136.6 L559.14 136.61 L559.64 136.61 L560.14 136.62 L560.64 136.64 L561.13 136.67 L561.63 136.73 L562.13 136.82 L562.63 136.98 L563.13 137.25 L563.62 137.7 L564.12 138.42 L564.62 139.52 L565.12 141.09 L565.61 143.1 L566.11 145.36 L566.61 147.54 L567.11 149.36 L567.6 150.72 L568.1 151.64 L568.6 152.23 L569.1 152.59 L569.59 152.8 L570.09 152.93 L570.59 153.04 L571.09 153.11 L571.58 153.17 L572.08 153.22 L572.58 153.26 L573.08 153.3 L573.57 153.33 L574.07 153.37 L574.57 153.4 L575.07 153.44 L575.56 153.47 L576.06 153.5 L576.56 153.54 L577.06 153.57 L577.55 153.6 L578.05 153.64 L578.55 153.67 L579.05 153.7 L579.54 153.74 L580.04 153.77 L580.54 153.8 L581.04 153.84 L581.54 153.87 L582.03 153.9 L582.53 153.94 L583.03 153.97 L583.53 154 L584.02 154.03 L584.52 154.07 L585.02 154.1 L585.52 154.13 L586.01 154.17 L586.51 154.2 L587.01 154.23 L587.51 154.27 L588 154.3 L588.5 154.33 L589 154.37 L589.5 154.4 L589.99 154.43 L590.49 154.47 L590.99 154.5 L591.49 154.53 L591.98 154.57 L592.48 154.6 L592.98 154.63 L593.48 154.67 L593.97 154.7 L594.47 154.73 L594.97 154.76 L595.47 154.8 L595.96 154.83 L596.46 154.86 L596.96 154.9 L597.46 154.93 L597.96 154.96 L598.45 155 L598.95 155.03 L599.45 155.06 L599.95 155.1 L600.44 155.13 L600.94 155.16 L601.44 155.2 L601.94 155.23 L602.43 155.26 L602.93 155.3 L603.43 155.33 L603.93 155.36 L604.42 155.39 L604.92 155.43 L605.42 155.46 L605.92 155.49 L606.41 155.53 L606.91 155.56 L607.41 155.59 L607.91 155.63 L608.4 155.66 L608.9 155.69 L609.4 155.73 L609.9 155.76 L610.39 155.79 L610.89 155.83 L611.39 155.86 L611.89 155.89 L612.38 155.93 L612.88 155.96 L613.38 156 L613.88 156.04 L614.37 156.08 L614.87 156.13 L615.37 156.18 L615.87 156.26 L616.37 156.4 L616.86 156.67 L617.36 157.16 L617.86 157.98 L618.36 159.22 L618.85 160.84 L619.35 162.55 L619.85 164.04 L620.35 165.1 L620.84 165.77 L621.34 166.16 L621.84 166.37 L622.34 166.49 L622.83 166.56 L623.33 166.6 L623.83 166.63 L624.33 166.64 L624.82 166.66 L625.32 166.67 L625.82 166.69 L626.32 166.7 L626.81 166.71 L627.31 166.72 L627.81 166.73 L628.31 166.74 L628.8 166.76 L629.3 166.77 L629.8 166.78 L630.3 166.79 L630.79 166.8 L631.29 166.81 L631.79 166.82 L632.29 166.84 L632.78 166.85 L633.28 166.86 L633.78 166.87 L634.28 166.88 L634.78 166.89 L635.27 166.9 L635.77 166.92 L636.27 166.93 L636.77 166.94 L637.26 166.95 L637.76 166.96 L638.26 166.97 L638.76 166.98 L639.25 167 L639.75 167.01 L640.25 167.02 L640.75 167.03 L641.24 167.04 L641.74 167.05 L642.24 167.06 L642.74 167.08 L643.23 167.09 L643.73 167.1 L644.23 167.11 L644.73 167.12 L645.22 167.13 L645.72 167.14 L646.22 167.16 L646.72 167.17 L647.21 167.18 L647.71 167.19 L648.21 167.2 L648.71 167.21 L649.2 167.22 L649.7 167.23 L650.2 167.25 L650.7 167.26 L651.19 167.27 L651.69 167.28 L652.19 167.29 L652.69 167.3 L653.19 167.31 L653.68 167.33 L654.18 167.34 L654.68 167.35 L655.18 167.36 L655.67 167.37 L656.17 167.38 L656.67 167.39 L657.17 167.41 L657.66 167.42 L658.16 167.43 L658.66 167.44 L659.16 167.45 L659.65 167.46 L660.15 167.47 L660.65 167.49 L661.15 167.5 L661.64 167.51 L662.14 167.52 L662.64 167.53 L663.14 167.54 L663.63 167.55 L664.13 167.57 L664.63 167.58 L665.13 167.59 L665.62 167.6 L666.12 167.61 L666.62 167.62 L667.12 167.63 L667.61 167.65 L668.11 167.66 L668.61 167.67 L669.11 167.68 L669.6 167.69 L670.1 167.7 L670.6 167.7" fill="none" stroke="#b86a3f" stroke-width="1.3" stroke-linejoin="round" stroke-linecap="round"/>
<text x="644.5" y="160.55" font-size="8.8" text-anchor="middle" fill="#bd7650" font-weight="normal" font-style="normal" letter-spacing="-0.3">30 K</text>
<path d="M506.9 172.5 L507.4 172.5 L507.9 172.5 L508.39 172.5 L508.89 172.5 L509.39 172.5 L509.89 172.5 L510.38 172.5 L510.88 172.5 L511.38 172.5 L511.88 172.5 L512.37 172.5 L512.87 172.5 L513.37 172.5 L513.87 172.5 L514.36 172.5 L514.86 172.5 L515.36 172.5 L515.86 172.5 L516.35 172.5 L516.85 172.5 L517.35 172.5 L517.85 172.5 L518.34 172.5 L518.84 172.5 L519.34 172.5 L519.84 172.5 L520.33 172.5 L520.83 172.5 L521.33 172.5 L521.83 172.5 L522.32 172.5 L522.82 172.5 L523.32 172.5 L523.82 172.5 L524.31 172.5 L524.81 172.5 L525.31 172.5 L525.81 172.5 L526.31 172.5 L526.8 172.5 L527.3 172.5 L527.8 172.5 L528.3 172.5 L528.79 172.5 L529.29 172.5 L529.79 172.5 L530.29 172.5 L530.78 172.5 L531.28 172.5 L531.78 172.5 L532.28 172.5 L532.77 172.5 L533.27 172.5 L533.77 172.5 L534.27 172.5 L534.76 172.5 L535.26 172.5 L535.76 172.5 L536.26 172.5 L536.75 172.5 L537.25 172.5 L537.75 172.5 L538.25 172.5 L538.74 172.5 L539.24 172.5 L539.74 172.5 L540.24 172.5 L540.73 172.5 L541.23 172.5 L541.73 172.5 L542.23 172.5 L542.72 172.5 L543.22 172.5 L543.72 172.5 L544.22 172.5 L544.72 172.51 L545.21 172.51 L545.71 172.52 L546.21 172.54 L546.71 172.57 L547.2 172.62 L547.7 172.71 L548.2 172.86 L548.7 173.12 L549.19 173.54 L549.69 174.21 L550.19 175.24 L550.69 176.68 L551.18 178.49 L551.68 180.48 L552.18 182.36 L552.68 183.91 L553.17 185.05 L553.67 185.81 L554.17 186.29 L554.67 186.58 L555.16 186.77 L555.66 186.91 L556.16 187 L556.66 187.08 L557.15 187.13 L557.65 187.18 L558.15 187.23 L558.65 187.27 L559.14 187.31 L559.64 187.34 L560.14 187.38 L560.64 187.42 L561.13 187.46 L561.63 187.49 L562.13 187.53 L562.63 187.57 L563.13 187.61 L563.62 187.64 L564.12 187.68 L564.62 187.72 L565.12 187.75 L565.61 187.79 L566.11 187.83 L566.61 187.86 L567.11 187.9 L567.6 187.94 L568.1 187.98 L568.6 188.01 L569.1 188.05 L569.59 188.09 L570.09 188.12 L570.59 188.16 L571.09 188.2 L571.58 188.23 L572.08 188.27 L572.58 188.31 L573.08 188.35 L573.57 188.38 L574.07 188.42 L574.57 188.46 L575.07 188.49 L575.56 188.53 L576.06 188.57 L576.56 188.61 L577.06 188.64 L577.55 188.68 L578.05 188.72 L578.55 188.75 L579.05 188.79 L579.54 188.83 L580.04 188.86 L580.54 188.9 L581.04 188.94 L581.54 188.98 L582.03 189.01 L582.53 189.05 L583.03 189.09 L583.53 189.12 L584.02 189.16 L584.52 189.2 L585.02 189.24 L585.52 189.27 L586.01 189.31 L586.51 189.35 L587.01 189.38 L587.51 189.42 L588 189.46 L588.5 189.49 L589 189.53 L589.5 189.57 L589.99 189.61 L590.49 189.64 L590.99 189.68 L591.49 189.72 L591.98 189.75 L592.48 189.79 L592.98 189.83 L593.48 189.87 L593.97 189.9 L594.47 189.94 L594.97 189.98 L595.47 190.01 L595.96 190.05 L596.46 190.09 L596.96 190.12 L597.46 190.16 L597.96 190.2 L598.45 190.24 L598.95 190.27 L599.45 190.31 L599.95 190.35 L600.44 190.4 L600.94 190.45 L601.44 190.51 L601.94 190.59 L602.43 190.69 L602.93 190.86 L603.43 191.18 L603.93 191.76 L604.42 192.71 L604.92 194.13 L605.42 195.94 L605.92 197.81 L606.41 199.38 L606.91 200.48 L607.41 201.16 L607.91 201.55 L608.4 201.77 L608.9 201.88 L609.4 201.94 L609.9 201.98 L610.39 202.01 L610.89 202.02 L611.39 202.03 L611.89 202.05 L612.38 202.05 L612.88 202.06 L613.38 202.07 L613.88 202.08 L614.37 202.09 L614.87 202.1 L615.37 202.1 L615.87 202.11 L616.37 202.12 L616.86 202.13 L617.36 202.14 L617.86 202.15 L618.36 202.15 L618.85 202.16 L619.35 202.17 L619.85 202.18 L620.35 202.19 L620.84 202.19 L621.34 202.2 L621.84 202.21 L622.34 202.22 L622.83 202.23 L623.33 202.23 L623.83 202.24 L624.33 202.25 L624.82 202.26 L625.32 202.27 L625.82 202.28 L626.32 202.28 L626.81 202.29 L627.31 202.3 L627.81 202.31 L628.31 202.32 L628.8 202.32 L629.3 202.33 L629.8 202.34 L630.3 202.35 L630.79 202.36 L631.29 202.37 L631.79 202.37 L632.29 202.38 L632.78 202.39 L633.28 202.4 L633.78 202.41 L634.28 202.41 L634.78 202.42 L635.27 202.43 L635.77 202.44 L636.27 202.45 L636.77 202.46 L637.26 202.46 L637.76 202.47 L638.26 202.48 L638.76 202.49 L639.25 202.5 L639.75 202.5 L640.25 202.51 L640.75 202.52 L641.24 202.53 L641.74 202.54 L642.24 202.54 L642.74 202.55 L643.23 202.56 L643.73 202.57 L644.23 202.58 L644.73 202.59 L645.22 202.59 L645.72 202.6 L646.22 202.61 L646.72 202.62 L647.21 202.63 L647.71 202.63 L648.21 202.64 L648.71 202.65 L649.2 202.66 L649.7 202.67 L650.2 202.68 L650.7 202.68 L651.19 202.69 L651.69 202.7 L652.19 202.71 L652.69 202.72 L653.19 202.72 L653.68 202.73 L654.18 202.74 L654.68 202.75 L655.18 202.76 L655.67 202.77 L656.17 202.77 L656.67 202.78 L657.17 202.79 L657.66 202.8 L658.16 202.81 L658.66 202.81 L659.16 202.82 L659.65 202.83 L660.15 202.84 L660.65 202.85 L661.15 202.85 L661.64 202.86 L662.14 202.87 L662.64 202.88 L663.14 202.89 L663.63 202.9 L664.13 202.9 L664.63 202.91 L665.13 202.92 L665.62 202.93 L666.12 202.94 L666.62 202.94 L667.12 202.95 L667.61 202.96 L668.11 202.97 L668.61 202.98 L669.11 202.99 L669.6 202.99 L670.1 203 L670.6 203" fill="none" stroke="#5a3b25" stroke-width="1.3" stroke-linejoin="round" stroke-linecap="round"/>
<path d="M506.9 172.5 L507.4 172.5 L507.9 172.5 L508.39 172.5 L508.89 172.5 L509.39 172.5 L509.89 172.5 L510.38 172.5 L510.88 172.5 L511.38 172.5 L511.88 172.5 L512.37 172.5 L512.87 172.5 L513.37 172.5 L513.87 172.5 L514.36 172.5 L514.86 172.5 L515.36 172.5 L515.86 172.5 L516.35 172.5 L516.85 172.5 L517.35 172.5 L517.85 172.5 L518.34 172.5 L518.84 172.5 L519.34 172.5 L519.84 172.5 L520.33 172.5 L520.83 172.5 L521.33 172.5 L521.83 172.5 L522.32 172.5 L522.82 172.5 L523.32 172.5 L523.82 172.5 L524.31 172.5 L524.81 172.5 L525.31 172.5 L525.81 172.5 L526.31 172.5 L526.8 172.5 L527.3 172.5 L527.8 172.5 L528.3 172.5 L528.79 172.5 L529.29 172.5 L529.79 172.5 L530.29 172.5 L530.78 172.5 L531.28 172.5 L531.78 172.5 L532.28 172.5 L532.77 172.5 L533.27 172.5 L533.77 172.5 L534.27 172.5 L534.76 172.5 L535.26 172.5 L535.76 172.5 L536.26 172.5 L536.75 172.5 L537.25 172.5 L537.75 172.5 L538.25 172.5 L538.74 172.5 L539.24 172.5 L539.74 172.5 L540.24 172.5 L540.73 172.5 L541.23 172.5 L541.73 172.5 L542.23 172.5 L542.72 172.5 L543.22 172.5 L543.72 172.5 L544.22 172.5 L544.72 172.5 L545.21 172.5 L545.71 172.5 L546.21 172.5 L546.71 172.5 L547.2 172.5 L547.7 172.5 L548.2 172.5 L548.7 172.5 L549.19 172.5 L549.69 172.5 L550.19 172.5 L550.69 172.5 L551.18 172.5 L551.68 172.5 L552.18 172.5 L552.68 172.5 L553.17 172.5 L553.67 172.5 L554.17 172.5 L554.67 172.5 L555.16 172.5 L555.66 172.5 L556.16 172.5 L556.66 172.5 L557.15 172.5 L557.65 172.5 L558.15 172.5 L558.65 172.5 L559.14 172.5 L559.64 172.5 L560.14 172.5 L560.64 172.5 L561.13 172.5 L561.63 172.5 L562.13 172.5 L562.63 172.5 L563.13 172.5 L563.62 172.5 L564.12 172.5 L564.62 172.5 L565.12 172.51 L565.61 172.53 L566.11 172.56 L566.61 172.58 L567.11 172.61 L567.6 172.63 L568.1 172.66 L568.6 172.68 L569.1 172.71 L569.59 172.74 L570.09 172.78 L570.59 172.82 L571.09 172.87 L571.58 172.94 L572.08 173.05 L572.58 173.22 L573.08 173.48 L573.57 173.91 L574.07 174.58 L574.57 175.6 L575.07 177.06 L575.56 178.91 L576.06 181.02 L576.56 183.08 L577.06 184.84 L577.55 186.16 L578.05 187.06 L578.55 187.64 L579.05 187.99 L579.54 188.2 L580.04 188.33 L580.54 188.45 L581.04 188.55 L581.54 188.62 L582.03 188.68 L582.53 188.74 L583.03 188.8 L583.53 188.85 L584.02 188.9 L584.52 188.95 L585.02 189 L585.52 189.05 L586.01 189.1 L586.51 189.15 L587.01 189.2 L587.51 189.25 L588 189.3 L588.5 189.35 L589 189.4 L589.5 189.45 L589.99 189.5 L590.49 189.55 L590.99 189.6 L591.49 189.65 L591.98 189.7 L592.48 189.75 L592.98 189.8 L593.48 189.85 L593.97 189.9 L594.47 189.95 L594.97 190 L595.47 190.05 L595.96 190.1 L596.46 190.15 L596.96 190.2 L597.46 190.25 L597.96 190.3 L598.45 190.35 L598.95 190.4 L599.45 190.44 L599.95 190.49 L600.44 190.54 L600.94 190.59 L601.44 190.64 L601.94 190.69 L602.43 190.74 L602.93 190.79 L603.43 190.84 L603.93 190.89 L604.42 190.94 L604.92 190.99 L605.42 191.04 L605.92 191.09 L606.41 191.14 L606.91 191.19 L607.41 191.24 L607.91 191.29 L608.4 191.34 L608.9 191.39 L609.4 191.44 L609.9 191.49 L610.39 191.54 L610.89 191.59 L611.39 191.64 L611.89 191.69 L612.38 191.74 L612.88 191.79 L613.38 191.84 L613.88 191.89 L614.37 191.94 L614.87 191.99 L615.37 192.04 L615.87 192.09 L616.37 192.14 L616.86 192.19 L617.36 192.24 L617.86 192.29 L618.36 192.34 L618.85 192.39 L619.35 192.44 L619.85 192.49 L620.35 192.54 L620.84 192.59 L621.34 192.64 L621.84 192.69 L622.34 192.74 L622.83 192.8 L623.33 192.87 L623.83 192.95 L624.33 193.06 L624.82 193.23 L625.32 193.47 L625.82 193.86 L626.32 194.54 L626.81 195.57 L627.31 196.94 L627.81 198.41 L628.31 199.71 L628.8 200.66 L629.3 201.25 L629.8 201.6 L630.3 201.79 L630.79 201.89 L631.29 201.95 L631.79 201.99 L632.29 202.01 L632.78 202.03 L633.28 202.04 L633.78 202.05 L634.28 202.07 L634.78 202.08 L635.27 202.09 L635.77 202.1 L636.27 202.11 L636.77 202.12 L637.26 202.13 L637.76 202.14 L638.26 202.15 L638.76 202.16 L639.25 202.17 L639.75 202.18 L640.25 202.19 L640.75 202.2 L641.24 202.21 L641.74 202.22 L642.24 202.23 L642.74 202.24 L643.23 202.25 L643.73 202.26 L644.23 202.27 L644.73 202.28 L645.22 202.29 L645.72 202.3 L646.22 202.31 L646.72 202.32 L647.21 202.33 L647.71 202.34 L648.21 202.35 L648.71 202.36 L649.2 202.37 L649.7 202.38 L650.2 202.39 L650.7 202.4 L651.19 202.41 L651.69 202.42 L652.19 202.43 L652.69 202.44 L653.19 202.46 L653.68 202.47 L654.18 202.48 L654.68 202.49 L655.18 202.5 L655.67 202.51 L656.17 202.52 L656.67 202.53 L657.17 202.54 L657.66 202.55 L658.16 202.56 L658.66 202.57 L659.16 202.58 L659.65 202.59 L660.15 202.6 L660.65 202.61 L661.15 202.62 L661.64 202.63 L662.14 202.64 L662.64 202.65 L663.14 202.66 L663.63 202.67 L664.13 202.68 L664.63 202.69 L665.13 202.7 L665.62 202.71 L666.12 202.72 L666.62 202.73 L667.12 202.74 L667.61 202.75 L668.11 202.76 L668.61 202.77 L669.11 202.78 L669.6 202.79 L670.1 202.8 L670.6 202.8" fill="none" stroke="#5a3b25" stroke-width="1.3" stroke-linejoin="round" stroke-linecap="round"/>
<text x="644.5" y="192.25" font-size="8.8" text-anchor="middle" fill="#6b4d3a" font-weight="normal" font-style="normal" letter-spacing="-0.3">10 K</text>
<text x="0" y="137.3" font-size="8.5" text-anchor="start" fill="#111" font-weight="bold" font-style="normal" >f</text>
<rect x="33.3" y="132.8" width="193.2" height="90.9" fill="none" stroke="#333" stroke-width="1.3"/>
<line x1="33.3" y1="140.0" x2="36.599999999999994" y2="140.0" stroke="#333" stroke-width="1"/>
<text x="27" y="143.2" font-size="9" text-anchor="end" fill="#222" font-weight="normal" font-style="normal" >1</text>
<line x1="33.3" y1="175.5" x2="36.599999999999994" y2="175.5" stroke="#333" stroke-width="1"/>
<text x="27" y="178.7" font-size="9" text-anchor="end" fill="#222" font-weight="normal" font-style="normal" >0</text>
<line x1="33.3" y1="211.2" x2="36.599999999999994" y2="211.2" stroke="#333" stroke-width="1"/>
<text x="27" y="214.4" font-size="9" text-anchor="end" fill="#222" font-weight="normal" font-style="normal" >-1</text>
<line x1="80.5" y1="223.7" x2="80.5" y2="221.0" stroke="#333" stroke-width="1"/>
<text x="79.5" y="236.4" font-size="9" text-anchor="middle" fill="#222" font-weight="normal" font-style="normal" >-10</text>
<line x1="130.4" y1="223.7" x2="130.4" y2="221.0" stroke="#333" stroke-width="1"/>
<text x="130.4" y="236.4" font-size="9" text-anchor="middle" fill="#222" font-weight="normal" font-style="normal" >0</text>
<line x1="180.0" y1="223.7" x2="180.0" y2="221.0" stroke="#333" stroke-width="1"/>
<text x="180" y="236.4" font-size="9" text-anchor="middle" fill="#222" font-weight="normal" font-style="normal" >10</text>
<text x="112" y="250" font-size="9.8" fill="#222"><tspan font-style="italic">H</tspan><tspan font-size="6.3" font-style="italic" dy="2">z</tspan><tspan dy="-2"> (kOe)</tspan></text>
<text transform="translate(10.9,192.3) rotate(-90)" font-size="10" fill="#222"><tspan font-style="italic">R</tspan><tspan font-size="6.5" dy="2.4">xy</tspan><tspan dy="-2.4">/&#916;</tspan><tspan font-style="italic">R</tspan><tspan font-size="6.5" dy="2.4">H</tspan></text>
<path d="M55.4 139.65 L55.89 139.66 L56.39 139.66 L56.88 139.67 L57.37 139.67 L57.87 139.68 L58.36 139.69 L58.85 139.69 L59.34 139.7 L59.84 139.7 L60.33 139.71 L60.82 139.72 L61.32 139.72 L61.81 139.73 L62.3 139.74 L62.8 139.74 L63.29 139.75 L63.78 139.76 L64.27 139.76 L64.77 139.77 L65.26 139.78 L65.75 139.78 L66.25 139.79 L66.74 139.8 L67.23 139.81 L67.72 139.81 L68.22 139.82 L68.71 139.83 L69.2 139.84 L69.7 139.85 L70.19 139.86 L70.68 139.88 L71.18 139.89 L71.67 139.9 L72.16 139.92 L72.66 139.94 L73.15 139.96 L73.64 139.98 L74.13 140.01 L74.63 140.04 L75.12 140.07 L75.61 140.11 L76.11 140.16 L76.6 140.21 L77.09 140.28 L77.58 140.35 L78.08 140.43 L78.57 140.53 L79.06 140.64 L79.56 140.77 L80.05 140.92 L80.54 141.1 L81.04 141.31 L81.53 141.54 L82.02 141.82 L82.52 142.13 L83.01 142.49 L83.5 142.9 L83.99 143.37 L84.49 143.89 L84.98 144.47 L85.47 145.11 L85.97 145.82 L86.46 146.58 L86.95 147.4 L87.44 148.27 L87.94 149.18 L88.43 150.11 L88.92 151.06 L89.42 152.01 L89.91 152.96 L90.4 153.87 L90.9 154.75 L91.39 155.59 L91.88 156.37 L92.38 157.09 L92.87 157.76 L93.36 158.36 L93.85 158.9 L94.35 159.38 L94.84 159.8 L95.33 160.18 L95.83 160.51 L96.32 160.79 L96.81 161.04 L97.31 161.26 L97.8 161.44 L98.29 161.6 L98.78 161.74 L99.28 161.86 L99.77 161.96 L100.26 162.05 L100.76 162.12 L101.25 162.19 L101.74 162.24 L102.23 162.29 L102.73 162.33 L103.22 162.37 L103.71 162.4 L104.21 162.43 L104.7 162.45 L105.18 163.12 L105.67 163.58 L106.15 164.13 L106.64 164.63 L107.12 165 L107.61 165.22 L108.09 165.34 L108.58 165.41 L109.06 165.46 L109.55 165.49 L110.03 165.51 L110.51 165.53 L111 165.55 L111.48 165.56 L111.97 165.58 L112.45 165.59 L112.94 165.61 L113.42 165.63 L113.91 165.64 L114.39 165.66 L114.88 165.67 L115.36 165.69 L115.84 165.7 L116.33 165.72 L116.81 165.74 L117.3 165.75 L117.78 165.77 L118.27 165.78 L118.75 165.8 L119.24 165.82 L119.72 165.83 L120.21 165.85 L120.69 165.86 L121.17 165.88 L121.66 165.89 L122.14 165.91 L122.63 165.93 L123.11 165.94 L123.6 165.96 L124.08 165.97 L124.57 165.99 L125.05 166 L125.54 166.02 L126.02 166.04 L126.5 166.05 L126.99 166.07 L127.47 166.08 L127.96 166.1 L128.44 166.11 L128.93 166.13 L129.41 166.15 L129.9 166.16 L130.38 166.18 L130.87 166.19 L131.35 166.21 L131.83 166.22 L132.32 166.24 L132.8 166.26 L133.29 166.27 L133.77 166.29 L134.26 166.3 L134.74 166.32 L135.23 166.33 L135.71 166.35 L136.2 166.37 L136.68 166.38 L137.16 166.4 L137.65 166.41 L138.13 166.43 L138.62 166.45 L139.1 166.46 L139.59 166.48 L140.07 166.49 L140.56 166.51 L141.04 166.52 L141.53 166.54 L142.01 166.56 L142.49 166.57 L142.98 166.59 L143.46 166.6 L143.95 166.62 L144.43 166.64 L144.92 166.66 L145.4 166.68 L145.89 166.7 L146.37 166.73 L146.86 166.77 L147.34 166.83 L147.82 166.92 L148.31 167.04 L148.79 167.24 L149.28 167.56 L149.76 168.07 L150.25 168.84 L150.73 169.92 L151.22 171.29 L151.7 172.82 L152.19 174.31 L152.67 175.57 L153.15 176.51 L153.64 177.17 L154.12 177.59 L154.61 177.86 L155.09 178.02 L155.58 178.11 L156.06 178.17 L156.55 178.2 L157.03 178.22 L157.52 178.23 L158 178.24 L158.47 178.39 L158.94 178.56 L159.41 178.76 L159.88 178.99 L160.35 179.24 L160.82 179.54 L161.29 179.87 L161.76 180.25 L162.23 180.68 L162.7 181.15 L163.17 181.69 L163.64 182.28 L164.11 182.94 L164.58 183.67 L165.05 184.45 L165.52 185.31 L165.99 186.23 L166.46 187.2 L166.93 188.23 L167.4 189.31 L167.87 190.42 L168.34 191.55 L168.81 192.7 L169.28 193.84 L169.75 194.98 L170.22 196.09 L170.69 197.16 L171.16 198.19 L171.63 199.16 L172.1 200.07 L172.57 200.93 L173.04 201.71 L173.51 202.43 L173.98 203.09 L174.45 203.68 L174.92 204.21 L175.39 204.69 L175.86 205.11 L176.33 205.5 L176.8 205.85 L177.27 206.16 L177.74 206.43 L178.21 206.67 L178.68 206.88 L179.15 207.07 L179.62 207.24 L180.09 207.38 L180.56 207.51 L181.03 207.62 L181.5 207.73 L181.97 207.82 L182.44 207.89 L182.91 207.97 L183.38 208.03 L183.85 208.09 L184.32 208.14 L184.79 208.19 L185.26 208.23 L185.73 208.27 L186.2 208.3 L186.67 208.34 L187.14 208.37 L187.61 208.4 L188.08 208.42 L188.55 208.45 L189.02 208.47 L189.49 208.5 L189.96 208.52 L190.43 208.54 L190.9 208.56 L191.37 208.58 L191.84 208.6 L192.31 208.62 L192.78 208.64 L193.25 208.65 L193.72 208.67 L194.19 208.69 L194.66 208.71 L195.13 208.73 L195.6 208.74 L196.07 208.76 L196.54 208.78 L197.01 208.79 L197.48 208.81 L197.95 208.83 L198.42 208.84 L198.89 208.86 L199.36 208.88 L199.83 208.89 L200.3 208.91 L200.77 208.93 L201.24 208.94 L201.71 208.96 L202.18 208.98 L202.65 208.99 L203.12 209.01 L203.59 209.02 L204.06 209.04 L204.53 209.06 L205 209.07" fill="none" stroke="#e8232b" stroke-width="1.2" stroke-linejoin="round"/>
<path d="M55.4 140.75 L55.89 140.76 L56.39 140.76 L56.88 140.77 L57.37 140.77 L57.87 140.78 L58.36 140.79 L58.85 140.79 L59.34 140.8 L59.84 140.8 L60.33 140.81 L60.82 140.82 L61.32 140.82 L61.81 140.83 L62.3 140.84 L62.8 140.84 L63.29 140.85 L63.78 140.86 L64.27 140.86 L64.77 140.87 L65.26 140.88 L65.75 140.88 L66.25 140.89 L66.74 140.9 L67.23 140.91 L67.72 140.91 L68.22 140.92 L68.71 140.93 L69.2 140.94 L69.7 140.95 L70.19 140.96 L70.68 140.98 L71.18 140.99 L71.67 141 L72.16 141.02 L72.66 141.04 L73.15 141.06 L73.64 141.08 L74.13 141.11 L74.63 141.14 L75.12 141.17 L75.61 141.21 L76.11 141.26 L76.6 141.31 L77.09 141.38 L77.58 141.45 L78.08 141.53 L78.57 141.63 L79.06 141.74 L79.56 141.87 L80.05 142.02 L80.54 142.2 L81.04 142.41 L81.53 142.64 L82.02 142.92 L82.52 143.23 L83.01 143.59 L83.5 144 L83.99 144.47 L84.49 144.99 L84.98 145.57 L85.47 146.21 L85.97 146.92 L86.46 147.68 L86.95 148.5 L87.44 149.37 L87.94 150.28 L88.43 151.21 L88.92 152.16 L89.42 153.11 L89.91 154.06 L90.4 154.97 L90.9 155.85 L91.39 156.69 L91.88 157.47 L92.38 158.19 L92.87 158.86 L93.36 159.46 L93.85 160 L94.35 160.48 L94.84 160.9 L95.33 161.28 L95.83 161.61 L96.32 161.89 L96.81 162.14 L97.31 162.36 L97.8 162.54 L98.29 162.7 L98.78 162.84 L99.28 162.96 L99.77 163.06 L100.26 163.15 L100.76 163.22 L101.25 163.29 L101.74 163.34 L102.23 163.39 L102.73 163.43 L103.22 163.47 L103.71 163.5 L104.21 163.53 L104.7 163.55 L105.18 164.22 L105.67 164.68 L106.15 165.23 L106.64 165.73 L107.12 166.1 L107.61 166.32 L108.09 166.44 L108.58 166.51 L109.06 166.56 L109.55 166.59 L110.03 166.61 L110.51 166.63 L111 166.65 L111.48 166.66 L111.97 166.68 L112.45 166.69 L112.94 166.71 L113.42 166.73 L113.91 166.74 L114.39 166.76 L114.88 166.77 L115.36 166.79 L115.84 166.8 L116.33 166.82 L116.81 166.84 L117.3 166.85 L117.78 166.87 L118.27 166.88 L118.75 166.9 L119.24 166.92 L119.72 166.93 L120.21 166.95 L120.69 166.96 L121.17 166.98 L121.66 166.99 L122.14 167.01 L122.63 167.03 L123.11 167.04 L123.6 167.06 L124.08 167.07 L124.57 167.09 L125.05 167.1 L125.54 167.12 L126.02 167.14 L126.5 167.15 L126.99 167.17 L127.47 167.18 L127.96 167.2 L128.44 167.21 L128.93 167.23 L129.41 167.25 L129.9 167.26 L130.38 167.28 L130.87 167.29 L131.35 167.31 L131.83 167.32 L132.32 167.34 L132.8 167.36 L133.29 167.37 L133.77 167.39 L134.26 167.4 L134.74 167.42 L135.23 167.43 L135.71 167.45 L136.2 167.47 L136.68 167.48 L137.16 167.5 L137.65 167.51 L138.13 167.53 L138.62 167.55 L139.1 167.56 L139.59 167.58 L140.07 167.59 L140.56 167.61 L141.04 167.62 L141.53 167.64 L142.01 167.66 L142.49 167.67 L142.98 167.69 L143.46 167.7 L143.95 167.72 L144.43 167.74 L144.92 167.76 L145.4 167.78 L145.89 167.8 L146.37 167.83 L146.86 167.87 L147.34 167.93 L147.82 168.02 L148.31 168.14 L148.79 168.34 L149.28 168.66 L149.76 169.17 L150.25 169.94 L150.73 171.02 L151.22 172.39 L151.7 173.92 L152.19 175.41 L152.67 176.67 L153.15 177.61 L153.64 178.27 L154.12 178.69 L154.61 178.96 L155.09 179.12 L155.58 179.21 L156.06 179.27 L156.55 179.3 L157.03 179.32 L157.52 179.33 L158 179.34 L158.47 179.49 L158.94 179.66 L159.41 179.86 L159.88 180.09 L160.35 180.34 L160.82 180.64 L161.29 180.97 L161.76 181.35 L162.23 181.78 L162.7 182.25 L163.17 182.79 L163.64 183.38 L164.11 184.04 L164.58 184.77 L165.05 185.55 L165.52 186.41 L165.99 187.33 L166.46 188.3 L166.93 189.33 L167.4 190.41 L167.87 191.52 L168.34 192.65 L168.81 193.8 L169.28 194.94 L169.75 196.08 L170.22 197.19 L170.69 198.26 L171.16 199.29 L171.63 200.26 L172.1 201.17 L172.57 202.03 L173.04 202.81 L173.51 203.53 L173.98 204.19 L174.45 204.78 L174.92 205.31 L175.39 205.79 L175.86 206.21 L176.33 206.6 L176.8 206.95 L177.27 207.26 L177.74 207.53 L178.21 207.77 L178.68 207.98 L179.15 208.17 L179.62 208.34 L180.09 208.48 L180.56 208.61 L181.03 208.72 L181.5 208.83 L181.97 208.92 L182.44 208.99 L182.91 209.07 L183.38 209.13 L183.85 209.19 L184.32 209.24 L184.79 209.29 L185.26 209.33 L185.73 209.37 L186.2 209.4 L186.67 209.44 L187.14 209.47 L187.61 209.5 L188.08 209.52 L188.55 209.55 L189.02 209.57 L189.49 209.6 L189.96 209.62 L190.43 209.64 L190.9 209.66 L191.37 209.68 L191.84 209.7 L192.31 209.72 L192.78 209.74 L193.25 209.75 L193.72 209.77 L194.19 209.79 L194.66 209.81 L195.13 209.83 L195.6 209.84 L196.07 209.86 L196.54 209.88 L197.01 209.89 L197.48 209.91 L197.95 209.93 L198.42 209.94 L198.89 209.96 L199.36 209.98 L199.83 209.99 L200.3 210.01 L200.77 210.03 L201.24 210.04 L201.71 210.06 L202.18 210.08 L202.65 210.09 L203.12 210.11 L203.59 210.12 L204.06 210.14 L204.53 210.16 L205 210.17" fill="none" stroke="#e8232b" stroke-width="1.2" stroke-linejoin="round"/>
<path d="M55.4 139.65 L55.89 139.66 L56.39 139.66 L56.88 139.67 L57.37 139.67 L57.87 139.68 L58.36 139.69 L58.85 139.69 L59.34 139.7 L59.84 139.7 L60.33 139.71 L60.82 139.72 L61.32 139.72 L61.81 139.73 L62.3 139.74 L62.8 139.74 L63.29 139.75 L63.78 139.76 L64.27 139.76 L64.77 139.77 L65.26 139.78 L65.75 139.78 L66.25 139.79 L66.74 139.8 L67.23 139.81 L67.72 139.81 L68.22 139.82 L68.71 139.83 L69.2 139.84 L69.7 139.85 L70.19 139.86 L70.68 139.88 L71.18 139.89 L71.67 139.9 L72.16 139.92 L72.66 139.94 L73.15 139.96 L73.64 139.98 L74.13 140.01 L74.63 140.04 L75.12 140.07 L75.61 140.11 L76.11 140.16 L76.6 140.21 L77.09 140.28 L77.58 140.35 L78.08 140.43 L78.57 140.53 L79.06 140.64 L79.56 140.77 L80.05 140.92 L80.54 141.1 L81.04 141.31 L81.53 141.54 L82.02 141.82 L82.52 142.13 L83.01 142.49 L83.5 142.9 L83.99 143.37 L84.49 143.89 L84.98 144.47 L85.47 145.11 L85.97 145.82 L86.46 146.58 L86.95 147.4 L87.44 148.27 L87.94 149.18 L88.43 150.11 L88.92 151.06 L89.42 152.01 L89.91 152.96 L90.4 153.87 L90.9 154.75 L91.39 155.59 L91.88 156.37 L92.38 157.09 L92.87 157.76 L93.36 158.36 L93.85 158.9 L94.35 159.38 L94.84 159.8 L95.33 160.18 L95.83 160.51 L96.32 160.79 L96.81 161.04 L97.31 161.26 L97.8 161.44 L98.29 161.6 L98.78 161.74 L99.28 161.86 L99.77 161.96 L100.26 162.05 L100.76 162.12 L101.25 162.19 L101.74 162.24 L102.23 162.29 L102.73 162.33 L103.22 162.37 L103.71 162.4 L104.21 162.43 L104.7 162.45 L105.18 162.52 L105.67 162.58 L106.15 162.72 L106.64 162.96 L107.12 163.42 L107.61 164.2 L108.09 165.38 L108.58 166.87 L109.06 168.38 L109.55 169.6 L110.03 170.42 L110.51 170.9 L111 171.17 L111.48 171.34 L111.97 171.44 L112.45 171.51 L112.94 171.56 L113.42 171.6 L113.91 171.63 L114.39 171.67 L114.88 171.7 L115.36 171.73 L115.84 171.76 L116.33 171.79 L116.81 171.82 L117.3 171.85 L117.78 171.88 L118.27 171.92 L118.75 171.95 L119.24 171.98 L119.72 172.01 L120.21 172.04 L120.69 172.07 L121.17 172.1 L121.66 172.13 L122.14 172.16 L122.63 172.2 L123.11 172.23 L123.6 172.26 L124.08 172.29 L124.57 172.32 L125.05 172.35 L125.54 172.38 L126.02 172.41 L126.5 172.44 L126.99 172.47 L127.47 172.51 L127.96 172.54 L128.44 172.57 L128.93 172.6 L129.41 172.63 L129.9 172.66 L130.38 172.69 L130.87 172.72 L131.35 172.75 L131.83 172.79 L132.32 172.82 L132.8 172.85 L133.29 172.88 L133.77 172.91 L134.26 172.94 L134.74 172.97 L135.23 173 L135.71 173.03 L136.2 173.07 L136.68 173.1 L137.16 173.13 L137.65 173.16 L138.13 173.19 L138.62 173.22 L139.1 173.25 L139.59 173.28 L140.07 173.31 L140.56 173.34 L141.04 173.38 L141.53 173.41 L142.01 173.44 L142.49 173.47 L142.98 173.5 L143.46 173.53 L143.95 173.56 L144.43 173.59 L144.92 173.62 L145.4 173.66 L145.89 173.69 L146.37 173.72 L146.86 173.75 L147.34 173.78 L147.82 173.81 L148.31 173.84 L148.79 173.87 L149.28 173.91 L149.76 173.94 L150.25 173.96 L150.73 173.97 L151.22 173.98 L151.7 174 L152.19 174.05 L152.67 174.14 L153.15 174.3 L153.64 174.58 L154.12 175.02 L154.61 175.63 L155.09 176.34 L155.58 177.03 L156.06 177.57 L156.55 177.94 L157.03 178.17 L157.52 178.3 L158 178.37 L158.47 178.52 L158.94 178.69 L159.41 178.89 L159.88 179.11 L160.35 179.37 L160.82 179.67 L161.29 180 L161.76 180.38 L162.23 180.8 L162.7 181.28 L163.17 181.82 L163.64 182.41 L164.11 183.07 L164.58 183.79 L165.05 184.58 L165.52 185.44 L165.99 186.35 L166.46 187.33 L166.93 188.36 L167.4 189.43 L167.87 190.54 L168.34 191.68 L168.81 192.83 L169.28 193.97 L169.75 195.11 L170.22 196.21 L170.69 197.29 L171.16 198.31 L171.63 199.29 L172.1 200.2 L172.57 201.05 L173.04 201.84 L173.51 202.56 L173.98 203.22 L174.45 203.81 L174.92 204.34 L175.39 204.82 L175.86 205.24 L176.33 205.63 L176.8 205.98 L177.27 206.29 L177.74 206.56 L178.21 206.8 L178.68 207.01 L179.15 207.2 L179.62 207.36 L180.09 207.51 L180.56 207.64 L181.03 207.75 L181.5 207.85 L181.97 207.94 L182.44 208.02 L182.91 208.09 L183.38 208.16 L183.85 208.22 L184.32 208.27 L184.79 208.31 L185.26 208.36 L185.73 208.39 L186.2 208.43 L186.67 208.46 L187.14 208.49 L187.61 208.52 L188.08 208.55 L188.55 208.58 L189.02 208.6 L189.49 208.62 L189.96 208.65 L190.43 208.67 L190.9 208.69 L191.37 208.71 L191.84 208.73 L192.31 208.75 L192.78 208.76 L193.25 208.78 L193.72 208.8 L194.19 208.82 L194.66 208.84 L195.13 208.85 L195.6 208.87 L196.07 208.89 L196.54 208.91 L197.01 208.92 L197.48 208.94 L197.95 208.96 L198.42 208.97 L198.89 208.99 L199.36 209.01 L199.83 209.02 L200.3 209.04 L200.77 209.05 L201.24 209.07 L201.71 209.09 L202.18 209.1 L202.65 209.12 L203.12 209.14 L203.59 209.15 L204.06 209.17 L204.53 209.18 L205 209.2" fill="none" stroke="#e8232b" stroke-width="1.2" stroke-linejoin="round"/>
<path d="M55.4 140.75 L55.89 140.76 L56.39 140.76 L56.88 140.77 L57.37 140.77 L57.87 140.78 L58.36 140.79 L58.85 140.79 L59.34 140.8 L59.84 140.8 L60.33 140.81 L60.82 140.82 L61.32 140.82 L61.81 140.83 L62.3 140.84 L62.8 140.84 L63.29 140.85 L63.78 140.86 L64.27 140.86 L64.77 140.87 L65.26 140.88 L65.75 140.88 L66.25 140.89 L66.74 140.9 L67.23 140.91 L67.72 140.91 L68.22 140.92 L68.71 140.93 L69.2 140.94 L69.7 140.95 L70.19 140.96 L70.68 140.98 L71.18 140.99 L71.67 141 L72.16 141.02 L72.66 141.04 L73.15 141.06 L73.64 141.08 L74.13 141.11 L74.63 141.14 L75.12 141.17 L75.61 141.21 L76.11 141.26 L76.6 141.31 L77.09 141.38 L77.58 141.45 L78.08 141.53 L78.57 141.63 L79.06 141.74 L79.56 141.87 L80.05 142.02 L80.54 142.2 L81.04 142.41 L81.53 142.64 L82.02 142.92 L82.52 143.23 L83.01 143.59 L83.5 144 L83.99 144.47 L84.49 144.99 L84.98 145.57 L85.47 146.21 L85.97 146.92 L86.46 147.68 L86.95 148.5 L87.44 149.37 L87.94 150.28 L88.43 151.21 L88.92 152.16 L89.42 153.11 L89.91 154.06 L90.4 154.97 L90.9 155.85 L91.39 156.69 L91.88 157.47 L92.38 158.19 L92.87 158.86 L93.36 159.46 L93.85 160 L94.35 160.48 L94.84 160.9 L95.33 161.28 L95.83 161.61 L96.32 161.89 L96.81 162.14 L97.31 162.36 L97.8 162.54 L98.29 162.7 L98.78 162.84 L99.28 162.96 L99.77 163.06 L100.26 163.15 L100.76 163.22 L101.25 163.29 L101.74 163.34 L102.23 163.39 L102.73 163.43 L103.22 163.47 L103.71 163.5 L104.21 163.53 L104.7 163.55 L105.18 163.62 L105.67 163.68 L106.15 163.82 L106.64 164.06 L107.12 164.52 L107.61 165.3 L108.09 166.48 L108.58 167.97 L109.06 169.48 L109.55 170.7 L110.03 171.52 L110.51 172 L111 172.27 L111.48 172.44 L111.97 172.54 L112.45 172.61 L112.94 172.66 L113.42 172.7 L113.91 172.73 L114.39 172.77 L114.88 172.8 L115.36 172.83 L115.84 172.86 L116.33 172.89 L116.81 172.92 L117.3 172.95 L117.78 172.98 L118.27 173.02 L118.75 173.05 L119.24 173.08 L119.72 173.11 L120.21 173.14 L120.69 173.17 L121.17 173.2 L121.66 173.23 L122.14 173.26 L122.63 173.3 L123.11 173.33 L123.6 173.36 L124.08 173.39 L124.57 173.42 L125.05 173.45 L125.54 173.48 L126.02 173.51 L126.5 173.54 L126.99 173.57 L127.47 173.61 L127.96 173.64 L128.44 173.67 L128.93 173.7 L129.41 173.73 L129.9 173.76 L130.38 173.79 L130.87 173.82 L131.35 173.85 L131.83 173.89 L132.32 173.92 L132.8 173.95 L133.29 173.98 L133.77 174.01 L134.26 174.04 L134.74 174.07 L135.23 174.1 L135.71 174.13 L136.2 174.17 L136.68 174.2 L137.16 174.23 L137.65 174.26 L138.13 174.29 L138.62 174.32 L139.1 174.35 L139.59 174.38 L140.07 174.41 L140.56 174.44 L141.04 174.48 L141.53 174.51 L142.01 174.54 L142.49 174.57 L142.98 174.6 L143.46 174.63 L143.95 174.66 L144.43 174.69 L144.92 174.72 L145.4 174.76 L145.89 174.79 L146.37 174.82 L146.86 174.85 L147.34 174.88 L147.82 174.91 L148.31 174.94 L148.79 174.97 L149.28 175.01 L149.76 175.04 L150.25 175.06 L150.73 175.07 L151.22 175.08 L151.7 175.1 L152.19 175.15 L152.67 175.24 L153.15 175.4 L153.64 175.68 L154.12 176.12 L154.61 176.73 L155.09 177.44 L155.58 178.13 L156.06 178.67 L156.55 179.04 L157.03 179.27 L157.52 179.4 L158 179.47 L158.47 179.62 L158.94 179.79 L159.41 179.99 L159.88 180.21 L160.35 180.47 L160.82 180.77 L161.29 181.1 L161.76 181.48 L162.23 181.9 L162.7 182.38 L163.17 182.92 L163.64 183.51 L164.11 184.17 L164.58 184.89 L165.05 185.68 L165.52 186.54 L165.99 187.45 L166.46 188.43 L166.93 189.46 L167.4 190.53 L167.87 191.64 L168.34 192.78 L168.81 193.93 L169.28 195.07 L169.75 196.21 L170.22 197.31 L170.69 198.39 L171.16 199.41 L171.63 200.39 L172.1 201.3 L172.57 202.15 L173.04 202.94 L173.51 203.66 L173.98 204.32 L174.45 204.91 L174.92 205.44 L175.39 205.92 L175.86 206.34 L176.33 206.73 L176.8 207.08 L177.27 207.39 L177.74 207.66 L178.21 207.9 L178.68 208.11 L179.15 208.3 L179.62 208.46 L180.09 208.61 L180.56 208.74 L181.03 208.85 L181.5 208.95 L181.97 209.04 L182.44 209.12 L182.91 209.19 L183.38 209.26 L183.85 209.32 L184.32 209.37 L184.79 209.41 L185.26 209.46 L185.73 209.49 L186.2 209.53 L186.67 209.56 L187.14 209.59 L187.61 209.62 L188.08 209.65 L188.55 209.68 L189.02 209.7 L189.49 209.72 L189.96 209.75 L190.43 209.77 L190.9 209.79 L191.37 209.81 L191.84 209.83 L192.31 209.85 L192.78 209.86 L193.25 209.88 L193.72 209.9 L194.19 209.92 L194.66 209.94 L195.13 209.95 L195.6 209.97 L196.07 209.99 L196.54 210.01 L197.01 210.02 L197.48 210.04 L197.95 210.06 L198.42 210.07 L198.89 210.09 L199.36 210.11 L199.83 210.12 L200.3 210.14 L200.77 210.15 L201.24 210.17 L201.71 210.19 L202.18 210.2 L202.65 210.22 L203.12 210.24 L203.59 210.25 L204.06 210.27 L204.53 210.28 L205 210.3" fill="none" stroke="#e8232b" stroke-width="1.2" stroke-linejoin="round"/>
<path d="M126.5 166.6 H175.3 M126.5 174.0 H175.3" stroke="#555" stroke-width="0.9" stroke-dasharray="2 1.4"/>
<path d="M170.8 168 V172.6" stroke="#333" stroke-width="0.8"/>
<polygon points="170.8,167 172,169.2 169.6,169.2" fill="#333"/>
<polygon points="170.8,173.6 169.6,171.4 172,171.4" fill="#333"/>
<text x="165.6" y="162.3" font-size="9.3" text-anchor="start" fill="#222" font-weight="normal" font-style="normal" >10.1%</text>
<path d="M196.8 144.2 C165 146 140 152 132.6 163.2" stroke="#555" stroke-width="0.8" fill="none"/>
<polygon points="131.3,165.5 131.97,161.92 134.19,163.29" fill="#444"/>
<path d="M80 198.3 C105 196 122 188 129.6 177.6" stroke="#555" stroke-width="0.8" fill="none"/>
<polygon points="130.8,175.4 130.33,179.01 128.04,177.78" fill="#444"/>
<rect x="53.4" y="158.3" width="26.6" height="58.9" fill="#fff" stroke="#666" stroke-width="0.8"/>
<text x="58.3" y="167.8" font-size="7.6" fill="#222">1<tspan font-size="4.56" dy="-2.9">st</tspan></text>
<polygon points="72.7,168.3 74.95,165.1 70.45,165.1" fill="#f39a2c"/>
<rect x="71.9" y="162.1" width="1.6" height="3.2" fill="#f39a2c"/>
<text x="58.3" y="177.2" font-size="7.6" fill="#222">2<tspan font-size="4.56" dy="-2.9">nd</tspan></text>
<polygon points="72.7,171.5 74.95,174.7 70.45,174.7" fill="#19994a"/>
<rect x="71.9" y="174.5" width="1.6" height="3.2" fill="#19994a"/>
<text x="58.3" y="186.5" font-size="7.6" fill="#222">3<tspan font-size="4.56" dy="-2.9">rd</tspan></text>
<polygon points="72.7,187 74.95,183.8 70.45,183.8" fill="#f39a2c"/>
<rect x="71.9" y="180.8" width="1.6" height="3.2" fill="#f39a2c"/>
<path d="M67.8 188 V193.5" stroke="#555" stroke-width="0.8" stroke-dasharray="0.8 0.9"/>
<text x="58.3" y="204.3" font-size="7.6" fill="#222">8<tspan font-size="4.56" dy="-2.9">th</tspan></text>
<polygon points="72.7,198.6 74.95,201.8 70.45,201.8" fill="#19994a"/>
<rect x="71.9" y="201.6" width="1.6" height="3.2" fill="#19994a"/>
<text x="58.3" y="213.2" font-size="7.6" fill="#222">9<tspan font-size="4.56" dy="-2.9">th</tspan></text>
<polygon points="72.7,213.7 74.95,210.5 70.45,210.5" fill="#f39a2c"/>
<rect x="71.9" y="207.5" width="1.6" height="3.2" fill="#f39a2c"/>
<rect x="197.2" y="139.3" width="25.2" height="59.3" fill="#fff" stroke="#666" stroke-width="0.8"/>
<text x="201.7" y="149.7" font-size="7.6" fill="#222">1<tspan font-size="4.56" dy="-2.9">st</tspan></text>
<polygon points="216,144 218.25,147.2 213.75,147.2" fill="#f39a2c"/>
<rect x="215.2" y="147" width="1.6" height="3.2" fill="#f39a2c"/>
<text x="201.7" y="159" font-size="7.6" fill="#222">2<tspan font-size="4.56" dy="-2.9">nd</tspan></text>
<polygon points="216,159.5 218.25,156.3 213.75,156.3" fill="#19994a"/>
<rect x="215.2" y="153.3" width="1.6" height="3.2" fill="#19994a"/>
<text x="201.7" y="168.2" font-size="7.6" fill="#222">3<tspan font-size="4.56" dy="-2.9">rd</tspan></text>
<polygon points="216,162.5 218.25,165.7 213.75,165.7" fill="#f39a2c"/>
<rect x="215.2" y="165.5" width="1.6" height="3.2" fill="#f39a2c"/>
<path d="M211.2 169.5 V175" stroke="#555" stroke-width="0.8" stroke-dasharray="0.8 0.9"/>
<text x="201.7" y="185" font-size="7.6" fill="#222">8<tspan font-size="4.56" dy="-2.9">th</tspan></text>
<polygon points="216,185.5 218.25,182.3 213.75,182.3" fill="#19994a"/>
<rect x="215.2" y="179.3" width="1.6" height="3.2" fill="#19994a"/>
<text x="201.7" y="194.5" font-size="7.6" fill="#222">9<tspan font-size="4.56" dy="-2.9">th</tspan></text>
<polygon points="216,188.8 218.25,192 213.75,192" fill="#f39a2c"/>
<rect x="215.2" y="191.8" width="1.6" height="3.2" fill="#f39a2c"/>
<text x="0" y="268.3" font-size="8.5" text-anchor="start" fill="#111" font-weight="bold" font-style="normal" >g</text>
<rect x="33.4" y="260.5" width="193.1" height="87.6" fill="none" stroke="#333" stroke-width="1.3"/>
<line x1="33.4" y1="276.3" x2="36.699999999999996" y2="276.3" stroke="#333" stroke-width="1"/>
<text x="27" y="279.5" font-size="9" text-anchor="end" fill="#222" font-weight="normal" font-style="normal" >1</text>
<line x1="33.4" y1="307.8" x2="36.699999999999996" y2="307.8" stroke="#333" stroke-width="1"/>
<text x="27" y="311" font-size="9" text-anchor="end" fill="#222" font-weight="normal" font-style="normal" >0</text>
<line x1="33.4" y1="335.2" x2="36.699999999999996" y2="335.2" stroke="#333" stroke-width="1"/>
<text x="27" y="338.4" font-size="9" text-anchor="end" fill="#222" font-weight="normal" font-style="normal" >-1</text>
<line x1="65.4" y1="348.1" x2="65.4" y2="345.40000000000003" stroke="#333" stroke-width="1"/>
<text x="64.4" y="360.8" font-size="9" text-anchor="middle" fill="#222" font-weight="normal" font-style="normal" >-40</text>
<line x1="97.6" y1="348.1" x2="97.6" y2="345.40000000000003" stroke="#333" stroke-width="1"/>
<text x="96.6" y="360.8" font-size="9" text-anchor="middle" fill="#222" font-weight="normal" font-style="normal" >-20</text>
<line x1="129.9" y1="348.1" x2="129.9" y2="345.40000000000003" stroke="#333" stroke-width="1"/>
<text x="129.9" y="360.8" font-size="9" text-anchor="middle" fill="#222" font-weight="normal" font-style="normal" >0</text>
<line x1="162.4" y1="348.1" x2="162.4" y2="345.40000000000003" stroke="#333" stroke-width="1"/>
<text x="162.4" y="360.8" font-size="9" text-anchor="middle" fill="#222" font-weight="normal" font-style="normal" >20</text>
<line x1="194.8" y1="348.1" x2="194.8" y2="345.40000000000003" stroke="#333" stroke-width="1"/>
<text x="194.8" y="360.8" font-size="9" text-anchor="middle" fill="#222" font-weight="normal" font-style="normal" >40</text>
<text x="112.3" y="374.2" font-size="9.8" fill="#222"><tspan font-style="italic">H</tspan><tspan font-size="6.3" font-style="italic" dy="2">y</tspan><tspan dy="-2"> (kOe)</tspan></text>
<text transform="translate(11.4,326) rotate(-90)" font-size="10" fill="#222"><tspan font-style="italic">R</tspan><tspan font-size="6.5" dy="2.4">xy</tspan><tspan dy="-2.4">/&#948;</tspan><tspan font-style="italic">R</tspan><tspan font-size="6.5" dy="2.4">H</tspan></text>
<path d="M48.9 281.83 L49.71 282.29 L50.51 282.56 L51.32 282.25 L52.12 282.26 L52.93 282.23 L53.73 282.42 L54.54 282.7 L55.34 282.22 L56.15 281.8 L56.95 282.29 L57.76 282.27 L58.57 282.58 L59.37 282.06 L60.18 282.12 L60.98 282.44 L61.79 282.2 L62.59 282.74 L63.4 283.1 L64.2 282.51 L65.01 282.06 L65.82 282.25 L66.62 282.75 L67.43 282.47 L68.23 282.06 L69.04 281.93 L69.84 281.41 L70.65 281.18 L71.45 281.2 L72.26 281.24 L73.06 280.97 L73.87 280.74 L74.68 280.53 L75.48 280.58 L76.29 280.42 L77.09 280 L77.9 280.47 L78.7 280.51 L79.51 280.6 L80.31 280.18 L81.12 280.64 L81.93 280.83 L82.73 280.2 L83.54 279.9 L84.34 280.04 L85.15 280.11 L85.95 280.35 L86.76 279.99 L87.56 280.1 L88.37 279.99 L89.17 279.51 L89.98 279.41 L90.79 279.59 L91.59 279.67 L92.4 279.35 L93.2 279.17 L94.01 278.45 L94.81 278.09 L95.62 278.34 L96.42 278.11 L97.23 277.68 L98.04 277.69 L98.84 277.83 L99.65 277.87 L100.45 277.58 L101.26 277.39 L102.06 277.29 L102.87 277.46 L103.67 277.32 L104.48 277.07 L105.28 276.95 L106.09 276.39 L106.9 275.95 L107.7 276.26 L108.51 276.75 L109.31 276.71 L110.12 276.45 L110.92 276.01 L111.73 276 L112.53 276.44 L113.34 276.54 L114.15 276.36 L114.95 276.52 L115.76 275.99 L116.56 275.86 L117.37 276.17 L118.17 276.02 L118.98 275.8 L119.78 275.43 L120.59 275.42 L121.4 275.81 L122.2 275.15 L123.01 275.41 L123.81 275.63 L124.62 275.85 L125.42 275.86 L126.23 275.93 L127.03 275.67 L127.84 275.51 L128.64 275.24 L129.45 274.66 L130.26 275.09 L131.06 275.26 L131.87 275.06 L132.67 275.25 L133.48 275.41 L134.28 275.44 L135.09 275.5 L135.89 275.77 L136.7 276.1 L137.5 276.38 L138.31 276.47 L139.12 276.15 L139.92 276.15 L140.73 276.13 L141.53 276.57 L142.34 277.22 L143.14 277.68 L143.95 278.06 L144.75 278.41 L145.56 278.15 L146.37 278.58 L147.17 278.77 L147.98 278.36 L148.78 278.03 L149.59 277.82 L150.39 278.45 L151.2 278.45 L152 278.36 L152.81 278.84 L153.62 278.97 L154.42 278.82 L155.23 278.85 L156.03 279.27 L156.84 279.28 L157.64 279.42 L158.45 280.01 L159.25 280.24 L160.06 280.31 L160.86 280.56 L161.67 280.34 L162.48 280.58 L163.28 280.83 L164.09 280.83 L164.89 280.79 L165.7 281.59 L166.5 281.84 L167.31 281.77 L168.11 282.15 L168.92 282.69 L169.72 282.34 L170.53 282.12 L171.34 282.12 L172.14 282.73 L172.95 282.67 L173.75 283.22 L174.56 283.66 L175.36 283.91 L176.17 283.81 L176.97 284.54 L177.78 284.96 L178.59 285.04 L179.39 284.85 L180.2 285.18 L181 285.22 L181.81 285.48 L182.61 285.46 L183.42 285.81 L184.22 285.54 L185.03 285.63 L185.84 286.41 L186.64 286.95 L187.45 286.83 L188.25 287.34 L189.06 287.22 L189.86 287.8 L190.67 288.09 L191.47 288.03 L192.28 287.87 L193.08 287.54 L193.89 288.22 L194.7 287.93 L195.5 288.55 L196.31 289.19 L197.11 289.33 L197.92 289.09 L198.72 289.6 L199.53 290.14 L200.33 290.3 L201.14 290.27 L201.94 290.15 L202.75 290.06 L203.56 289.89 L204.36 290.27 L205.17 290.35 L205.97 290.21 L206.78 290.05 L207.58 290.53 L208.39 290.55 L209.19 290.81 L210 290.87" fill="none" stroke="#2b3398" stroke-width="1.5" stroke-linejoin="round"/>
<path d="M48.9 281.66 L49.71 282.02 L50.51 281.4 L51.32 280.98 L52.12 281.42 L52.93 281.66 L53.73 281.77 L54.54 281.51 L55.34 281.61 L56.15 281.7 L56.95 281.75 L57.76 281.36 L58.57 281.36 L59.37 281.32 L60.18 281.63 L60.98 282.14 L61.79 282.49 L62.59 282.35 L63.4 282.15 L64.2 281.83 L65.01 281.37 L65.82 281.02 L66.62 281.16 L67.43 281.01 L68.23 280.92 L69.04 281.34 L69.84 281.25 L70.65 281.2 L71.45 280.8 L72.26 280.25 L73.06 280.11 L73.87 279.79 L74.68 279.89 L75.48 280.43 L76.29 280.47 L77.09 279.98 L77.9 280.29 L78.7 280.4 L79.51 280.39 L80.31 280.52 L81.12 280.44 L81.93 280.38 L82.73 279.87 L83.54 280.08 L84.34 280.19 L85.15 279.44 L85.95 279.44 L86.76 279.37 L87.56 279.03 L88.37 278.82 L89.17 278.58 L89.98 278.81 L90.79 278.53 L91.59 278.62 L92.4 278.17 L93.2 278.34 L94.01 278.45 L94.81 278.06 L95.62 277.85 L96.42 278.01 L97.23 277.9 L98.04 277.55 L98.84 277 L99.65 276.65 L100.45 276.73 L101.26 276.23 L102.06 276.57 L102.87 276.15 L103.67 276.47 L104.48 276.07 L105.28 276.4 L106.09 276.37 L106.9 276.12 L107.7 275.92 L108.51 275.87 L109.31 275.75 L110.12 275.35 L110.92 274.93 L111.73 274.88 L112.53 275.25 L113.34 275.18 L114.15 274.56 L114.95 274.81 L115.76 274.88 L116.56 275.08 L117.37 274.5 L118.17 274.61 L118.98 274.08 L119.78 274.27 L120.59 274.05 L121.4 273.83 L122.2 274.32 L123.01 273.93 L123.81 274.05 L124.62 274.47 L125.42 274.18 L126.23 273.94 L127.03 274.42 L127.84 274.33 L128.64 274.56 L129.45 274.05 L130.26 274.01 L131.06 273.78 L131.87 274.12 L132.67 273.9 L133.48 274.66 L134.28 274.34 L135.09 274.84 L135.89 274.54 L136.7 274.59 L137.5 275.22 L138.31 275.08 L139.12 275.03 L139.92 275.54 L140.73 275.66 L141.53 275.44 L142.34 276.26 L143.14 276.07 L143.95 275.86 L144.75 276.04 L145.56 276.48 L146.37 276.98 L147.17 276.76 L147.98 276.86 L148.78 276.66 L149.59 276.97 L150.39 277.57 L151.2 278.02 L152 278.57 L152.81 278.87 L153.62 279.24 L154.42 279.4 L155.23 279.33 L156.03 279.06 L156.84 279.34 L157.64 279.24 L158.45 278.99 L159.25 279.19 L160.06 279.8 L160.86 279.56 L161.67 279.87 L162.48 279.95 L163.28 280.17 L164.09 280 L164.89 280.73 L165.7 280.62 L166.5 280.92 L167.31 281 L168.11 280.69 L168.92 281.04 L169.72 280.93 L170.53 280.8 L171.34 280.71 L172.14 280.82 L172.95 280.87 L173.75 281.49 L174.56 281.89 L175.36 282.71 L176.17 283.33 L176.97 283.89 L177.78 283.6 L178.59 283.64 L179.39 283.52 L180.2 283.82 L181 284.12 L181.81 284.56 L182.61 284.85 L183.42 284.66 L184.22 284.73 L185.03 284.94 L185.84 284.61 L186.64 284.44 L187.45 284.74 L188.25 284.7 L189.06 285.34 L189.86 285.38 L190.67 285.31 L191.47 285.39 L192.28 285.54 L193.08 285.69 L193.89 286.15 L194.7 286.48 L195.5 286.62 L196.31 287.1 L197.11 287.08 L197.92 287.81 L198.72 288.43 L199.53 288.71 L200.33 288.67 L201.14 288.76 L201.94 288.93 L202.75 288.58 L203.56 288.72 L204.36 288.97 L205.17 288.86 L205.97 288.73 L206.78 289.38 L207.58 289.48 L208.39 289.75 L209.19 290.39 L210 290.6" fill="none" stroke="#2b3398" stroke-width="1.5" stroke-linejoin="round"/>
<path d="M48.9 313.04 L49.71 313.38 L50.51 313.52 L51.32 313.92 L52.12 314.3 L52.93 314.08 L53.73 313.92 L54.54 314.68 L55.34 314.73 L56.15 314.81 L56.95 315.68 L57.76 315.87 L58.57 316.43 L59.37 316.56 L60.18 316.88 L60.98 316.75 L61.79 317.21 L62.59 317.86 L63.4 318.08 L64.2 318.53 L65.01 318.88 L65.82 318.6 L66.62 319.17 L67.43 319.5 L68.23 319.53 L69.04 319.35 L69.84 320.13 L70.65 320.4 L71.45 320.92 L72.26 321.54 L73.06 321.92 L73.87 322.48 L74.68 322.45 L75.48 322.91 L76.29 322.97 L77.09 323.58 L77.9 324.06 L78.7 323.69 L79.51 323.49 L80.31 323.47 L81.12 324.27 L81.93 324.41 L82.73 324.76 L83.54 324.75 L84.34 325.02 L85.15 325.15 L85.95 325.28 L86.76 325.67 L87.56 326.03 L88.37 326.67 L89.17 326.99 L89.98 327.54 L90.79 327.94 L91.59 328.44 L92.4 328.55 L93.2 328.19 L94.01 328.67 L94.81 329.2 L95.62 329.6 L96.42 329.62 L97.23 329.84 L98.04 329.57 L98.84 330.04 L99.65 330.2 L100.45 330.09 L101.26 329.85 L102.06 330.51 L102.87 331.21 L103.67 330.84 L104.48 331.32 L105.28 331.33 L106.09 331.13 L106.9 331.17 L107.7 331.72 L108.51 332.29 L109.31 331.93 L110.12 332.28 L110.92 332.02 L111.73 332.54 L112.53 332.59 L113.34 333.23 L114.15 333.85 L114.95 333.89 L115.76 334.46 L116.56 334.25 L117.37 333.9 L118.17 334.21 L118.98 333.92 L119.78 333.91 L120.59 334.1 L121.4 334.45 L122.2 334.28 L123.01 334.07 L123.81 334.76 L124.62 334.74 L125.42 335.4 L126.23 335.86 L127.03 335.7 L127.84 335.7 L128.64 335.77 L129.45 335.98 L130.26 336.03 L131.06 335.87 L131.87 335.76 L132.67 335.97 L133.48 335.65 L134.28 335.3 L135.09 335.28 L135.89 334.75 L136.7 334.38 L137.5 334.74 L138.31 334.51 L139.12 334.33 L139.92 333.62 L140.73 333.45 L141.53 333.45 L142.34 332.85 L143.14 332.96 L143.95 333.01 L144.75 332.45 L145.56 332.55 L146.37 332.43 L147.17 332.51 L147.98 332.21 L148.78 332.3 L149.59 332.37 L150.39 331.69 L151.2 331.19 L152 331.4 L152.81 331.81 L153.62 331.38 L154.42 331.23 L155.23 331.22 L156.03 330.91 L156.84 330.69 L157.64 330.45 L158.45 330.29 L159.25 330.37 L160.06 330.1 L160.86 329.94 L161.67 330.19 L162.48 329.6 L163.28 329.67 L164.09 329.86 L164.89 329.54 L165.7 329.19 L166.5 329.47 L167.31 329.09 L168.11 328.72 L168.92 328.66 L169.72 328.85 L170.53 328.37 L171.34 328.19 L172.14 328.04 L172.95 328.4 L173.75 328.24 L174.56 328.51 L175.36 328 L176.17 327.75 L176.97 327.85 L177.78 328.13 L178.59 327.87 L179.39 327.42 L180.2 326.96 L181 326.98 L181.81 326.63 L182.61 326.96 L183.42 327.2 L184.22 326.7 L185.03 326.39 L185.84 326.66 L186.64 326.66 L187.45 326.8 L188.25 326.41 L189.06 325.88 L189.86 325.61 L190.67 325.88 L191.47 325.53 L192.28 325.31 L193.08 325.19 L193.89 325.07 L194.7 324.94 L195.5 325.33 L196.31 324.82 L197.11 324.26 L197.92 324.75 L198.72 324.97 L199.53 325.19 L200.33 324.77 L201.14 324.92 L201.94 324.97 L202.75 324.26 L203.56 324.21 L204.36 324.22 L205.17 324 L205.97 323.66 L206.78 323.13 L207.58 322.74 L208.39 322.29 L209.19 321.75 L210 321.82" fill="none" stroke="#e8393f" stroke-width="1.5" stroke-linejoin="round"/>
<path d="M48.9 313.54 L49.71 313.51 L50.51 313.86 L51.32 313.96 L52.12 314.02 L52.93 314.47 L53.73 315.41 L54.54 316.07 L55.34 316.61 L56.15 316.54 L56.95 316.88 L57.76 316.96 L58.57 316.98 L59.37 317.01 L60.18 317.21 L60.98 318.13 L61.79 318.78 L62.59 319.32 L63.4 319.78 L64.2 319.6 L65.01 319.64 L65.82 320.06 L66.62 320.54 L67.43 321.1 L68.23 321.61 L69.04 321.27 L69.84 321.6 L70.65 321.99 L71.45 322.18 L72.26 322.06 L73.06 322.34 L73.87 322.23 L74.68 323.06 L75.48 323.68 L76.29 323.9 L77.09 323.89 L77.9 324.55 L78.7 324.78 L79.51 325.31 L80.31 325.73 L81.12 325.77 L81.93 325.77 L82.73 326.01 L83.54 326.09 L84.34 325.94 L85.15 326.04 L85.95 326.68 L86.76 326.45 L87.56 326.34 L88.37 326.91 L89.17 327.05 L89.98 327.47 L90.79 327.78 L91.59 327.95 L92.4 328.79 L93.2 328.69 L94.01 328.89 L94.81 328.89 L95.62 329.38 L96.42 329.46 L97.23 329.65 L98.04 330.26 L98.84 330.34 L99.65 330.71 L100.45 331.39 L101.26 331.16 L102.06 331.01 L102.87 331.12 L103.67 331.74 L104.48 332.1 L105.28 332.03 L106.09 332.12 L106.9 332.08 L107.7 332.37 L108.51 332.22 L109.31 332.81 L110.12 333.49 L110.92 334.1 L111.73 334.39 L112.53 334.87 L113.34 334.34 L114.15 334.25 L114.95 334.91 L115.76 335.26 L116.56 335.2 L117.37 335.73 L118.17 335.85 L118.98 336.18 L119.78 335.95 L120.59 335.64 L121.4 335.65 L122.2 335.37 L123.01 335.41 L123.81 336.05 L124.62 335.91 L125.42 335.5 L126.23 335.24 L127.03 335.19 L127.84 335.78 L128.64 335.82 L129.45 335.79 L130.26 335.53 L131.06 336.08 L131.87 335.9 L132.67 335.52 L133.48 335.04 L134.28 334.65 L135.09 334.44 L135.89 334.75 L136.7 334.42 L137.5 334.03 L138.31 334.16 L139.12 333.97 L139.92 334.55 L140.73 334.07 L141.53 334.09 L142.34 334.31 L143.14 334.08 L143.95 334.45 L144.75 334.18 L145.56 333.71 L146.37 333.49 L147.17 332.92 L147.98 332.84 L148.78 332.57 L149.59 332.98 L150.39 333.21 L151.2 333.02 L152 332.37 L152.81 332.08 L153.62 331.82 L154.42 331.56 L155.23 331.36 L156.03 331.82 L156.84 331.4 L157.64 330.97 L158.45 331.49 L159.25 331.49 L160.06 331.88 L160.86 331.55 L161.67 331.78 L162.48 331.67 L163.28 331.69 L164.09 331.64 L164.89 331.31 L165.7 330.63 L166.5 330.21 L167.31 330.53 L168.11 330.77 L168.92 330.94 L169.72 330.44 L170.53 330.36 L171.34 330.42 L172.14 330.27 L172.95 330.3 L173.75 330 L174.56 329.88 L175.36 329.78 L176.17 329.26 L176.97 329.49 L177.78 329.67 L178.59 328.88 L179.39 329.16 L180.2 329.33 L181 329.13 L181.81 328.33 L182.61 328.55 L183.42 327.91 L184.22 328.24 L185.03 328.16 L185.84 327.46 L186.64 327 L187.45 327.1 L188.25 327.08 L189.06 327.21 L189.86 327.45 L190.67 326.9 L191.47 326.23 L192.28 326.62 L193.08 325.97 L193.89 326.32 L194.7 325.79 L195.5 326.05 L196.31 326.19 L197.11 326.35 L197.92 326.12 L198.72 326.18 L199.53 325.5 L200.33 325.42 L201.14 324.97 L201.94 325.14 L202.75 325.11 L203.56 324.74 L204.36 324.47 L205.17 323.72 L205.97 323.11 L206.78 323.18 L207.58 323.07 L208.39 323.32 L209.19 323.21 L210 322.6" fill="none" stroke="#e8393f" stroke-width="1.5" stroke-linejoin="round"/>
<line x1="57.9" y1="276.2" x2="118.6" y2="269.6" stroke="#2b3398" stroke-width="0.75"/>
<polygon points="118.6,269.6 115.55,271.14 115.29,268.75" fill="#2b3398"/>
<line x1="119.8" y1="282.3" x2="57.9" y2="289.1" stroke="#2b3398" stroke-width="0.75"/>
<polygon points="57.9,289.1 60.95,287.56 61.21,289.94" fill="#2b3398"/>
<line x1="142" y1="269.7" x2="207.6" y2="285.9" stroke="#2b3398" stroke-width="0.75"/>
<polygon points="207.6,285.9 204.21,286.3 204.78,283.97" fill="#2b3398"/>
<line x1="199" y1="296.4" x2="139.6" y2="281.1" stroke="#2b3398" stroke-width="0.75"/>
<polygon points="139.6,281.1 143,280.74 142.4,283.06" fill="#2b3398"/>
<line x1="57.9" y1="309" x2="116.2" y2="327.2" stroke="#e8393f" stroke-width="0.75"/>
<polygon points="116.2,327.2 112.79,327.39 113.5,325.1" fill="#e8393f"/>
<line x1="111.3" y1="339.3" x2="51.4" y2="319.9" stroke="#e8393f" stroke-width="0.75"/>
<polygon points="51.4,319.9 54.81,319.74 54.07,322.03" fill="#e8393f"/>
<line x1="138.4" y1="327.2" x2="202.7" y2="317.5" stroke="#e8393f" stroke-width="0.75"/>
<polygon points="202.7,317.5 199.71,319.16 199.36,316.79" fill="#e8393f"/>
<line x1="205.1" y1="329.2" x2="142.5" y2="338.9" stroke="#e8393f" stroke-width="0.75"/>
<polygon points="142.5,338.9 145.48,337.22 145.85,339.6" fill="#e8393f"/>
<text x="240.1" y="259.8" font-size="8.5" text-anchor="start" fill="#111" font-weight="bold" font-style="normal" >d</text>
<clipPath id="cd"><rect x="283.3" y="258.7" width="173.7" height="116.7"/></clipPath>
<g clip-path="url(#cd)">
<rect x="283.3" y="258.7" width="173.7" height="116.7" fill="#7e7e7e"/>
<polygon points="282.3,283.66 458,344.1 458,388.9 282.3,329.16" fill="#484848"/>
<line x1="282.3" y1="286.97" x2="458.0" y2="347.41" stroke="#a0a0a0" stroke-width="1.9" opacity="0.85"/>
<line x1="282.3" y1="291.39" x2="458.0" y2="351.83" stroke="#a0a0a0" stroke-width="1.9" opacity="0.85"/>
<line x1="282.3" y1="295.8" x2="458.0" y2="356.24" stroke="#a0a0a0" stroke-width="1.9" opacity="0.85"/>
<line x1="282.3" y1="300.22" x2="458.0" y2="360.66" stroke="#a0a0a0" stroke-width="1.9" opacity="0.85"/>
<line x1="282.3" y1="304.64" x2="458.0" y2="365.08" stroke="#a0a0a0" stroke-width="1.9" opacity="0.85"/>
<line x1="282.3" y1="309.06" x2="458.0" y2="369.5" stroke="#a0a0a0" stroke-width="1.9" opacity="0.85"/>
<line x1="282.3" y1="313.47" x2="458.0" y2="373.91" stroke="#a0a0a0" stroke-width="1.9" opacity="0.85"/>
<line x1="282.3" y1="317.89" x2="458.0" y2="378.33" stroke="#a0a0a0" stroke-width="1.9" opacity="0.85"/>
<line x1="282.3" y1="322.31" x2="458.0" y2="382.75" stroke="#a0a0a0" stroke-width="1.9" opacity="0.85"/>
<line x1="282.3" y1="326.73" x2="458.0" y2="387.17" stroke="#a0a0a0" stroke-width="1.9" opacity="0.85"/>
<polygon points="282.3,257.7 458,257.7 458,344.1 282.3,283.66" fill="#3f3f3f"/>
<polygon points="278,254 345,254 350,262 338,282 322,296 278,282" fill="url(#cdtl)" filter="url(#bl2)"/>
<polygon points="340,248 345.7,257 360,264 375,270.5 390.4,276 420,284 459,292.5 466,294 466,248" fill="#949494" filter="url(#bl1)"/>
<rect x="283.3" y="258.7" width="173.7" height="116.7" filter="url(#nz)" style="mix-blend-mode:overlay" opacity="0.5"/>
<line x1="282.3" y1="283.66" x2="458.0" y2="344.1" stroke="#fff" stroke-width="1.3"/>
<line x1="282.3" y1="329.16" x2="458.0" y2="388.9" stroke="#fff" stroke-width="1.3"/>
<line x1="327.51" y1="303.27" x2="353.04" y2="312.06" stroke="#e43a36" stroke-width="1.5" stroke-dasharray="2.6 1.6"/>
<line x1="322.6" y1="306.18" x2="348.13" y2="314.97" stroke="#e43a36" stroke-width="1.5" stroke-dasharray="2.6 1.6"/>
<line x1="317.69" y1="309.09" x2="343.22" y2="317.88" stroke="#e43a36" stroke-width="1.5" stroke-dasharray="2.6 1.6"/>
<line x1="312.78" y1="312.01" x2="338.31" y2="320.79" stroke="#e43a36" stroke-width="1.5" stroke-dasharray="2.6 1.6"/>
<line x1="307.87" y1="314.92" x2="333.4" y2="323.7" stroke="#e43a36" stroke-width="1.5" stroke-dasharray="2.6 1.6"/>
<line x1="302.96" y1="317.83" x2="328.49" y2="326.61" stroke="#e43a36" stroke-width="1.5" stroke-dasharray="2.6 1.6"/>
<line x1="298.05" y1="320.74" x2="323.58" y2="329.52" stroke="#e43a36" stroke-width="1.5" stroke-dasharray="2.6 1.6"/>
<line x1="293.14" y1="323.65" x2="318.67" y2="332.43" stroke="#e43a36" stroke-width="1.5" stroke-dasharray="2.6 1.6"/>
<line x1="288.22" y1="326.56" x2="313.76" y2="335.34" stroke="#e43a36" stroke-width="1.5" stroke-dasharray="2.6 1.6"/>
<line x1="311.3" y1="336.8" x2="355.5" y2="310.6" stroke="#f2a51f" stroke-width="1.5"/>
<text x="397.4" y="304" font-size="10.5" text-anchor="middle" fill="#fff" font-weight="normal" font-style="normal" >Pt</text>
<text transform="translate(372,333.2) rotate(18.98)" font-size="10.3" text-anchor="middle" fill="#fff" dy="3.6">9 layers</text>
<rect x="286.7" y="355.5" width="33.3" height="17.4" fill="#7b7b7b" opacity="0.6"/>
<text x="303.35" y="365.1" font-size="9.8" text-anchor="middle" fill="#fff" font-weight="normal" font-style="normal" >5 nm</text>
<rect x="288.9" y="369.1" width="29.1" height="2" fill="#fff"/>
</g>
<rect x="246.5" y="269.6" width="26.2" height="97" fill="#fff" stroke="#666" stroke-width="0.8"/>
<path d="M272.7 269.6 L283.8 284.1 M272.7 366.6 L284.6 328.9" stroke="#555" stroke-width="0.8"/>
<text x="251.6" y="281.6" font-size="8.3" fill="#222">1<tspan font-size="4.98" dy="-2.9">st</tspan></text>
<polygon points="266.4,275.6 269,278.8 263.8,278.8" fill="#f39a2c"/>
<rect x="265.5" y="278.6" width="1.8" height="3.8" fill="#f39a2c"/>
<text x="251.6" y="291.3" font-size="8.3" fill="#222">2<tspan font-size="4.98" dy="-2.9">nd</tspan></text>
<polygon points="266.4,292.1 269,288.9 263.8,288.9" fill="#19994a"/>
<rect x="265.5" y="285.3" width="1.8" height="3.8" fill="#19994a"/>
<text x="251.6" y="301" font-size="8.3" fill="#222">3<tspan font-size="4.98" dy="-2.9">rd</tspan></text>
<polygon points="266.4,295 269,298.2 263.8,298.2" fill="#f39a2c"/>
<rect x="265.5" y="298" width="1.8" height="3.8" fill="#f39a2c"/>
<text x="251.6" y="310.7" font-size="8.3" fill="#222">4<tspan font-size="4.98" dy="-2.9">th</tspan></text>
<polygon points="266.4,311.5 269,308.3 263.8,308.3" fill="#19994a"/>
<rect x="265.5" y="304.7" width="1.8" height="3.8" fill="#19994a"/>
<text x="251.6" y="320.4" font-size="8.3" fill="#222">5<tspan font-size="4.98" dy="-2.9">th</tspan></text>
<polygon points="266.4,314.4 269,317.6 263.8,317.6" fill="#f39a2c"/>
<rect x="265.5" y="317.4" width="1.8" height="3.8" fill="#f39a2c"/>
<text x="251.6" y="330.1" font-size="8.3" fill="#222">6<tspan font-size="4.98" dy="-2.9">th</tspan></text>
<polygon points="266.4,330.9 269,327.7 263.8,327.7" fill="#19994a"/>
<rect x="265.5" y="324.1" width="1.8" height="3.8" fill="#19994a"/>
<text x="251.6" y="339.8" font-size="8.3" fill="#222">7<tspan font-size="4.98" dy="-2.9">th</tspan></text>
<polygon points="266.4,333.8 269,337 263.8,337" fill="#f39a2c"/>
<rect x="265.5" y="336.8" width="1.8" height="3.8" fill="#f39a2c"/>
<text x="251.6" y="349.5" font-size="8.3" fill="#222">8<tspan font-size="4.98" dy="-2.9">th</tspan></text>
<polygon points="266.4,350.3 269,347.1 263.8,347.1" fill="#19994a"/>
<rect x="265.5" y="343.5" width="1.8" height="3.8" fill="#19994a"/>
<text x="251.6" y="359.2" font-size="8.3" fill="#222">9<tspan font-size="4.98" dy="-2.9">th</tspan></text>
<polygon points="266.4,353.2 269,356.4 263.8,356.4" fill="#f39a2c"/>
<rect x="265.5" y="356.2" width="1.8" height="3.8" fill="#f39a2c"/>
<text x="467.4" y="261.5" font-size="8.5" text-anchor="start" fill="#111" font-weight="bold" font-style="normal" >e</text>
<clipPath id="ce"><rect x="511.3" y="258.8" width="173.7" height="116.6"/></clipPath>
<g clip-path="url(#ce)">
<rect x="511.3" y="258.8" width="173.7" height="116.6" fill="#7e7e7e"/>
<polygon points="510.3,278.86 686,337.9 686,391.17 510.3,330.55" fill="#484848"/>
<line x1="510.3" y1="281.78" x2="686.0" y2="340.81" stroke="#a0a0a0" stroke-width="1.9" opacity="0.85"/>
<line x1="510.3" y1="285.67" x2="686.0" y2="344.7" stroke="#a0a0a0" stroke-width="1.9" opacity="0.85"/>
<line x1="510.3" y1="289.55" x2="686.0" y2="348.59" stroke="#a0a0a0" stroke-width="1.9" opacity="0.85"/>
<line x1="510.3" y1="293.44" x2="686.0" y2="352.48" stroke="#a0a0a0" stroke-width="1.9" opacity="0.85"/>
<line x1="510.3" y1="297.33" x2="686.0" y2="356.36" stroke="#a0a0a0" stroke-width="1.9" opacity="0.85"/>
<line x1="510.3" y1="301.22" x2="686.0" y2="360.25" stroke="#a0a0a0" stroke-width="1.9" opacity="0.85"/>
<line x1="510.3" y1="305.1" x2="686.0" y2="364.14" stroke="#a0a0a0" stroke-width="1.9" opacity="0.85"/>
<line x1="510.3" y1="308.99" x2="686.0" y2="368.03" stroke="#a0a0a0" stroke-width="1.9" opacity="0.85"/>
<line x1="510.3" y1="312.88" x2="686.0" y2="371.91" stroke="#a0a0a0" stroke-width="1.9" opacity="0.85"/>
<line x1="510.3" y1="316.76" x2="686.0" y2="375.8" stroke="#a0a0a0" stroke-width="1.9" opacity="0.85"/>
<line x1="510.3" y1="320.65" x2="686.0" y2="379.69" stroke="#a0a0a0" stroke-width="1.9" opacity="0.85"/>
<line x1="510.3" y1="324.54" x2="686.0" y2="383.57" stroke="#a0a0a0" stroke-width="1.9" opacity="0.85"/>
<line x1="510.3" y1="328.43" x2="686.0" y2="387.46" stroke="#a0a0a0" stroke-width="1.9" opacity="0.85"/>
<polygon points="510.3,257.8 686,257.8 686,337.9 510.3,278.86" fill="#383838"/>
<polygon points="500,250 562,250 560,266 540,282 520,290 500,290" fill="url(#cetl)" filter="url(#bl2)"/>
<polygon points="566,248 571.3,257 585,265 600,274 617.3,280.5 650,287 687,293.3 694,294.5 694,248" fill="#8d8d8d" filter="url(#bl1)"/>
<rect x="511.3" y="258.8" width="173.7" height="116.6" filter="url(#nz)" style="mix-blend-mode:overlay" opacity="0.5"/>
<line x1="510.3" y1="278.86" x2="686.0" y2="337.9" stroke="#fff" stroke-width="1.3"/>
<line x1="510.3" y1="330.55" x2="686.0" y2="391.17" stroke="#fff" stroke-width="1.3"/>
<line x1="569.1" y1="300.63" x2="596.59" y2="309.86" stroke="#e43a36" stroke-width="1.5" stroke-dasharray="2.6 1.6"/>
<line x1="564.47" y1="303.35" x2="591.96" y2="312.59" stroke="#e43a36" stroke-width="1.5" stroke-dasharray="2.6 1.6"/>
<line x1="559.85" y1="306.08" x2="587.34" y2="315.31" stroke="#e43a36" stroke-width="1.5" stroke-dasharray="2.6 1.6"/>
<line x1="555.22" y1="308.8" x2="582.71" y2="318.04" stroke="#e43a36" stroke-width="1.5" stroke-dasharray="2.6 1.6"/>
<line x1="550.6" y1="311.53" x2="578.09" y2="320.76" stroke="#e43a36" stroke-width="1.5" stroke-dasharray="2.6 1.6"/>
<line x1="545.97" y1="314.25" x2="573.46" y2="323.49" stroke="#e43a36" stroke-width="1.5" stroke-dasharray="2.6 1.6"/>
<line x1="541.35" y1="316.98" x2="568.84" y2="326.21" stroke="#e43a36" stroke-width="1.5" stroke-dasharray="2.6 1.6"/>
<line x1="536.72" y1="319.7" x2="564.21" y2="328.94" stroke="#e43a36" stroke-width="1.5" stroke-dasharray="2.6 1.6"/>
<line x1="532.1" y1="322.43" x2="559.59" y2="331.66" stroke="#e43a36" stroke-width="1.5" stroke-dasharray="2.6 1.6"/>
<line x1="527.47" y1="325.15" x2="554.96" y2="334.39" stroke="#e43a36" stroke-width="1.5" stroke-dasharray="2.6 1.6"/>
<line x1="522.85" y1="327.88" x2="550.34" y2="337.11" stroke="#e43a36" stroke-width="1.5" stroke-dasharray="2.6 1.6"/>
<line x1="518.22" y1="330.6" x2="545.71" y2="339.84" stroke="#e43a36" stroke-width="1.5" stroke-dasharray="2.6 1.6"/>
<line x1="543.4" y1="341.2" x2="598.9" y2="308.5" stroke="#f2a51f" stroke-width="1.5"/>
<text x="636.3" y="304" font-size="10.5" text-anchor="middle" fill="#fff" font-weight="normal" font-style="normal" >Pt</text>
<text transform="translate(613.2,336.8) rotate(18.57)" font-size="10.3" text-anchor="middle" fill="#fff" dy="3.6">12 layers</text>
<rect x="516.2" y="354.8" width="34" height="18.4" fill="#7b7b7b" opacity="0.6"/>
<text x="533.2" y="364.4" font-size="9.8" text-anchor="middle" fill="#fff" font-weight="normal" font-style="normal" >5 nm</text>
<rect x="518.4" y="369.4" width="29.8" height="2" fill="#fff"/>
</g>
<rect x="475.3" y="255.9" width="29.9" height="119.4" fill="#fff" stroke="#666" stroke-width="0.8"/>
<path d="M505.2 255.9 L511.3 278.6 M505.2 375.3 L511.3 331.5" stroke="#555" stroke-width="0.8"/>
<text x="487" y="265.5" font-size="8.3" fill="#222" text-anchor="end">1</text>
<text x="487.3" y="262.6" font-size="4.98" fill="#222">st</text>
<polygon points="496.9,259.5 499.5,262.7 494.3,262.7" fill="#f39a2c"/>
<rect x="496" y="262.5" width="1.8" height="3.8" fill="#f39a2c"/>
<text x="487" y="275.2" font-size="8.3" fill="#222" text-anchor="end">2</text>
<text x="487.3" y="272.3" font-size="4.98" fill="#222">nd</text>
<polygon points="496.9,276 499.5,272.8 494.3,272.8" fill="#19994a"/>
<rect x="496" y="269.2" width="1.8" height="3.8" fill="#19994a"/>
<text x="487" y="284.9" font-size="8.3" fill="#222" text-anchor="end">3</text>
<text x="487.3" y="282" font-size="4.98" fill="#222">rd</text>
<polygon points="496.9,278.9 499.5,282.1 494.3,282.1" fill="#f39a2c"/>
<rect x="496" y="281.9" width="1.8" height="3.8" fill="#f39a2c"/>
<text x="487" y="294.6" font-size="8.3" fill="#222" text-anchor="end">4</text>
<text x="487.3" y="291.7" font-size="4.98" fill="#222">th</text>
<polygon points="496.9,295.4 499.5,292.2 494.3,292.2" fill="#19994a"/>
<rect x="496" y="288.6" width="1.8" height="3.8" fill="#19994a"/>
<text x="487" y="304.3" font-size="8.3" fill="#222" text-anchor="end">5</text>
<text x="487.3" y="301.4" font-size="4.98" fill="#222">th</text>
<polygon points="496.9,298.3 499.5,301.5 494.3,301.5" fill="#f39a2c"/>
<rect x="496" y="301.3" width="1.8" height="3.8" fill="#f39a2c"/>
<text x="487" y="314" font-size="8.3" fill="#222" text-anchor="end">6</text>
<text x="487.3" y="311.1" font-size="4.98" fill="#222">th</text>
<polygon points="496.9,314.8 499.5,311.6 494.3,311.6" fill="#19994a"/>
<rect x="496" y="308" width="1.8" height="3.8" fill="#19994a"/>
<text x="487" y="323.7" font-size="8.3" fill="#222" text-anchor="end">7</text>
<text x="487.3" y="320.8" font-size="4.98" fill="#222">th</text>
<polygon points="496.9,317.7 499.5,320.9 494.3,320.9" fill="#f39a2c"/>
<rect x="496" y="320.7" width="1.8" height="3.8" fill="#f39a2c"/>
<text x="487" y="333.4" font-size="8.3" fill="#222" text-anchor="end">8</text>
<text x="487.3" y="330.5" font-size="4.98" fill="#222">th</text>
<polygon points="496.9,334.2 499.5,331 494.3,331" fill="#19994a"/>
<rect x="496" y="327.4" width="1.8" height="3.8" fill="#19994a"/>
<text x="487" y="343.1" font-size="8.3" fill="#222" text-anchor="end">9</text>
<text x="487.3" y="340.2" font-size="4.98" fill="#222">th</text>
<polygon points="496.9,337.1 499.5,340.3 494.3,340.3" fill="#f39a2c"/>
<rect x="496" y="340.1" width="1.8" height="3.8" fill="#f39a2c"/>
<text x="487" y="352.8" font-size="8.3" fill="#222" text-anchor="end">10</text>
<text x="487.3" y="349.9" font-size="4.98" fill="#222">th</text>
<polygon points="496.9,353.6 499.5,350.4 494.3,350.4" fill="#19994a"/>
<rect x="496" y="346.8" width="1.8" height="3.8" fill="#19994a"/>
<text x="487" y="362.5" font-size="8.3" fill="#222" text-anchor="end">11</text>
<text x="487.3" y="359.6" font-size="4.98" fill="#222">th</text>
<polygon points="496.9,356.5 499.5,359.7 494.3,359.7" fill="#f39a2c"/>
<rect x="496" y="359.5" width="1.8" height="3.8" fill="#f39a2c"/>
<text x="487" y="372.2" font-size="8.3" fill="#222" text-anchor="end">12</text>
<text x="487.3" y="369.3" font-size="4.98" fill="#222">th</text>
<polygon points="496.9,373 499.5,369.8 494.3,369.8" fill="#19994a"/>
<rect x="496" y="366.2" width="1.8" height="3.8" fill="#19994a"/>
</svg>
</body></html>
